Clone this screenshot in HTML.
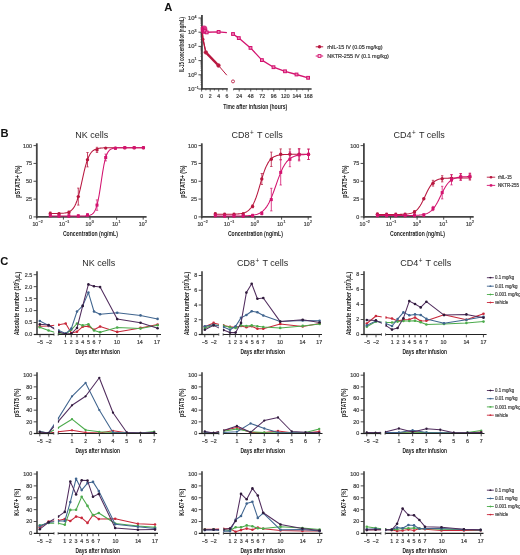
<!DOCTYPE html>
<html><head><meta charset="utf-8"><style>
html,body{margin:0;padding:0;background:#fff;}
body{width:520px;height:555px;overflow:hidden;}
svg{display:block;font-family:"Liberation Sans", sans-serif;will-change:transform;}
</style></head><body>
<svg width="520" height="555" viewBox="0 0 520 555">
<rect width="520" height="555" fill="#fff"/>
<text x="164.3" y="10.5" font-size="11.2" text-anchor="start" font-weight="bold" fill="#111">A</text>
<text x="0.5" y="137.4" font-size="11.2" text-anchor="start" font-weight="bold" fill="#111">B</text>
<text x="0.3" y="265.4" font-size="11.2" text-anchor="start" font-weight="bold" fill="#111">C</text>
<line x1="201.95" y1="15" x2="201.95" y2="89.5" stroke="#2a2a2a" stroke-width="1.6"/>
<line x1="198.45" y1="18" x2="201.95" y2="18" stroke="#3a3a3a" stroke-width="0.9"/>
<text x="194.4" y="20" font-size="5.8" text-anchor="end" font-weight="normal" fill="#444" stroke="#444" stroke-width="0.22">10</text>
<text x="194.6" y="17.7" font-size="3.6" text-anchor="start" font-weight="normal" fill="#444" stroke="#444" stroke-width="0.22">4</text>
<line x1="200.35" y1="27.93" x2="201.95" y2="27.93" stroke="#3a3a3a" stroke-width="0.5"/>
<line x1="200.35" y1="25.42" x2="201.95" y2="25.42" stroke="#3a3a3a" stroke-width="0.5"/>
<line x1="200.35" y1="23.65" x2="201.95" y2="23.65" stroke="#3a3a3a" stroke-width="0.5"/>
<line x1="200.35" y1="22.27" x2="201.95" y2="22.27" stroke="#3a3a3a" stroke-width="0.5"/>
<line x1="200.35" y1="21.15" x2="201.95" y2="21.15" stroke="#3a3a3a" stroke-width="0.5"/>
<line x1="200.35" y1="20.2" x2="201.95" y2="20.2" stroke="#3a3a3a" stroke-width="0.5"/>
<line x1="200.35" y1="19.38" x2="201.95" y2="19.38" stroke="#3a3a3a" stroke-width="0.5"/>
<line x1="200.35" y1="18.65" x2="201.95" y2="18.65" stroke="#3a3a3a" stroke-width="0.5"/>
<line x1="198.45" y1="32.2" x2="201.95" y2="32.2" stroke="#3a3a3a" stroke-width="0.9"/>
<text x="194.4" y="34.2" font-size="5.8" text-anchor="end" font-weight="normal" fill="#444" stroke="#444" stroke-width="0.22">10</text>
<text x="194.6" y="31.9" font-size="3.6" text-anchor="start" font-weight="normal" fill="#444" stroke="#444" stroke-width="0.22">3</text>
<line x1="200.35" y1="42.13" x2="201.95" y2="42.13" stroke="#3a3a3a" stroke-width="0.5"/>
<line x1="200.35" y1="39.62" x2="201.95" y2="39.62" stroke="#3a3a3a" stroke-width="0.5"/>
<line x1="200.35" y1="37.85" x2="201.95" y2="37.85" stroke="#3a3a3a" stroke-width="0.5"/>
<line x1="200.35" y1="36.47" x2="201.95" y2="36.47" stroke="#3a3a3a" stroke-width="0.5"/>
<line x1="200.35" y1="35.35" x2="201.95" y2="35.35" stroke="#3a3a3a" stroke-width="0.5"/>
<line x1="200.35" y1="34.4" x2="201.95" y2="34.4" stroke="#3a3a3a" stroke-width="0.5"/>
<line x1="200.35" y1="33.58" x2="201.95" y2="33.58" stroke="#3a3a3a" stroke-width="0.5"/>
<line x1="200.35" y1="32.85" x2="201.95" y2="32.85" stroke="#3a3a3a" stroke-width="0.5"/>
<line x1="198.45" y1="46.4" x2="201.95" y2="46.4" stroke="#3a3a3a" stroke-width="0.9"/>
<text x="194.4" y="48.4" font-size="5.8" text-anchor="end" font-weight="normal" fill="#444" stroke="#444" stroke-width="0.22">10</text>
<text x="194.6" y="46.1" font-size="3.6" text-anchor="start" font-weight="normal" fill="#444" stroke="#444" stroke-width="0.22">2</text>
<line x1="200.35" y1="56.33" x2="201.95" y2="56.33" stroke="#3a3a3a" stroke-width="0.5"/>
<line x1="200.35" y1="53.82" x2="201.95" y2="53.82" stroke="#3a3a3a" stroke-width="0.5"/>
<line x1="200.35" y1="52.05" x2="201.95" y2="52.05" stroke="#3a3a3a" stroke-width="0.5"/>
<line x1="200.35" y1="50.67" x2="201.95" y2="50.67" stroke="#3a3a3a" stroke-width="0.5"/>
<line x1="200.35" y1="49.55" x2="201.95" y2="49.55" stroke="#3a3a3a" stroke-width="0.5"/>
<line x1="200.35" y1="48.6" x2="201.95" y2="48.6" stroke="#3a3a3a" stroke-width="0.5"/>
<line x1="200.35" y1="47.78" x2="201.95" y2="47.78" stroke="#3a3a3a" stroke-width="0.5"/>
<line x1="200.35" y1="47.05" x2="201.95" y2="47.05" stroke="#3a3a3a" stroke-width="0.5"/>
<line x1="198.45" y1="60.6" x2="201.95" y2="60.6" stroke="#3a3a3a" stroke-width="0.9"/>
<text x="194.4" y="62.6" font-size="5.8" text-anchor="end" font-weight="normal" fill="#444" stroke="#444" stroke-width="0.22">10</text>
<text x="194.6" y="60.3" font-size="3.6" text-anchor="start" font-weight="normal" fill="#444" stroke="#444" stroke-width="0.22">1</text>
<line x1="200.35" y1="70.53" x2="201.95" y2="70.53" stroke="#3a3a3a" stroke-width="0.5"/>
<line x1="200.35" y1="68.02" x2="201.95" y2="68.02" stroke="#3a3a3a" stroke-width="0.5"/>
<line x1="200.35" y1="66.25" x2="201.95" y2="66.25" stroke="#3a3a3a" stroke-width="0.5"/>
<line x1="200.35" y1="64.87" x2="201.95" y2="64.87" stroke="#3a3a3a" stroke-width="0.5"/>
<line x1="200.35" y1="63.75" x2="201.95" y2="63.75" stroke="#3a3a3a" stroke-width="0.5"/>
<line x1="200.35" y1="62.8" x2="201.95" y2="62.8" stroke="#3a3a3a" stroke-width="0.5"/>
<line x1="200.35" y1="61.98" x2="201.95" y2="61.98" stroke="#3a3a3a" stroke-width="0.5"/>
<line x1="200.35" y1="61.25" x2="201.95" y2="61.25" stroke="#3a3a3a" stroke-width="0.5"/>
<line x1="198.45" y1="74.8" x2="201.95" y2="74.8" stroke="#3a3a3a" stroke-width="0.9"/>
<text x="194.4" y="76.8" font-size="5.8" text-anchor="end" font-weight="normal" fill="#444" stroke="#444" stroke-width="0.22">10</text>
<text x="194.6" y="74.5" font-size="3.6" text-anchor="start" font-weight="normal" fill="#444" stroke="#444" stroke-width="0.22">0</text>
<line x1="200.35" y1="84.73" x2="201.95" y2="84.73" stroke="#3a3a3a" stroke-width="0.5"/>
<line x1="200.35" y1="82.22" x2="201.95" y2="82.22" stroke="#3a3a3a" stroke-width="0.5"/>
<line x1="200.35" y1="80.45" x2="201.95" y2="80.45" stroke="#3a3a3a" stroke-width="0.5"/>
<line x1="200.35" y1="79.07" x2="201.95" y2="79.07" stroke="#3a3a3a" stroke-width="0.5"/>
<line x1="200.35" y1="77.95" x2="201.95" y2="77.95" stroke="#3a3a3a" stroke-width="0.5"/>
<line x1="200.35" y1="77" x2="201.95" y2="77" stroke="#3a3a3a" stroke-width="0.5"/>
<line x1="200.35" y1="76.18" x2="201.95" y2="76.18" stroke="#3a3a3a" stroke-width="0.5"/>
<line x1="200.35" y1="75.45" x2="201.95" y2="75.45" stroke="#3a3a3a" stroke-width="0.5"/>
<line x1="198.45" y1="89" x2="201.95" y2="89" stroke="#3a3a3a" stroke-width="0.9"/>
<text x="194.4" y="91" font-size="5.8" text-anchor="end" font-weight="normal" fill="#444" stroke="#444" stroke-width="0.22">10</text>
<text x="194.6" y="88.7" font-size="3.6" text-anchor="start" font-weight="normal" fill="#444" stroke="#444" stroke-width="0.22">&#8722;1</text>
<text transform="translate(181.2,44.5) rotate(-90)" x="0" y="0" font-size="6.6" text-anchor="middle" font-weight="bold" fill="#222" textLength="55" lengthAdjust="spacingAndGlyphs" dominant-baseline="central">IL-15 concentration (ng/mL)</text>
<line x1="201.15" y1="88.9" x2="227.8" y2="88.9" stroke="#333" stroke-width="1.5"/>
<line x1="201.6" y1="88.9" x2="201.6" y2="91.5" stroke="#3a3a3a" stroke-width="0.8"/>
<line x1="205.9" y1="88.9" x2="205.9" y2="90.4" stroke="#3a3a3a" stroke-width="0.8"/>
<line x1="210.2" y1="88.9" x2="210.2" y2="91.5" stroke="#3a3a3a" stroke-width="0.8"/>
<line x1="214.4" y1="88.9" x2="214.4" y2="90.4" stroke="#3a3a3a" stroke-width="0.8"/>
<line x1="218.7" y1="88.9" x2="218.7" y2="91.5" stroke="#3a3a3a" stroke-width="0.8"/>
<line x1="222.8" y1="88.9" x2="222.8" y2="90.4" stroke="#3a3a3a" stroke-width="0.8"/>
<line x1="226.9" y1="88.9" x2="226.9" y2="91.5" stroke="#3a3a3a" stroke-width="0.8"/>
<text x="201.6" y="98.4" font-size="5.2" text-anchor="middle" font-weight="normal" fill="#444" stroke="#444" stroke-width="0.22">0</text>
<text x="210.2" y="98.4" font-size="5.2" text-anchor="middle" font-weight="normal" fill="#444" stroke="#444" stroke-width="0.22">2</text>
<text x="218.7" y="98.4" font-size="5.2" text-anchor="middle" font-weight="normal" fill="#444" stroke="#444" stroke-width="0.22">4</text>
<text x="226.9" y="98.4" font-size="5.2" text-anchor="middle" font-weight="normal" fill="#444" stroke="#444" stroke-width="0.22">6</text>
<line x1="233.4" y1="88.9" x2="311.6" y2="88.9" stroke="#333" stroke-width="1.5"/>
<line x1="239.2" y1="88.9" x2="239.2" y2="91.5" stroke="#3a3a3a" stroke-width="0.8"/>
<line x1="233.5" y1="88.9" x2="233.5" y2="90.4" stroke="#3a3a3a" stroke-width="0.6"/>
<line x1="250.72" y1="88.9" x2="250.72" y2="91.5" stroke="#3a3a3a" stroke-width="0.8"/>
<line x1="245.02" y1="88.9" x2="245.02" y2="90.4" stroke="#3a3a3a" stroke-width="0.6"/>
<line x1="262.24" y1="88.9" x2="262.24" y2="91.5" stroke="#3a3a3a" stroke-width="0.8"/>
<line x1="256.54" y1="88.9" x2="256.54" y2="90.4" stroke="#3a3a3a" stroke-width="0.6"/>
<line x1="273.76" y1="88.9" x2="273.76" y2="91.5" stroke="#3a3a3a" stroke-width="0.8"/>
<line x1="268.06" y1="88.9" x2="268.06" y2="90.4" stroke="#3a3a3a" stroke-width="0.6"/>
<line x1="285.28" y1="88.9" x2="285.28" y2="91.5" stroke="#3a3a3a" stroke-width="0.8"/>
<line x1="279.58" y1="88.9" x2="279.58" y2="90.4" stroke="#3a3a3a" stroke-width="0.6"/>
<line x1="296.8" y1="88.9" x2="296.8" y2="91.5" stroke="#3a3a3a" stroke-width="0.8"/>
<line x1="291.1" y1="88.9" x2="291.1" y2="90.4" stroke="#3a3a3a" stroke-width="0.6"/>
<line x1="308.32" y1="88.9" x2="308.32" y2="91.5" stroke="#3a3a3a" stroke-width="0.8"/>
<line x1="302.62" y1="88.9" x2="302.62" y2="90.4" stroke="#3a3a3a" stroke-width="0.6"/>
<text x="239.2" y="98.4" font-size="5.2" text-anchor="middle" font-weight="normal" fill="#444" stroke="#444" stroke-width="0.22">24</text>
<text x="250.72" y="98.4" font-size="5.2" text-anchor="middle" font-weight="normal" fill="#444" stroke="#444" stroke-width="0.22">48</text>
<text x="262.24" y="98.4" font-size="5.2" text-anchor="middle" font-weight="normal" fill="#444" stroke="#444" stroke-width="0.22">72</text>
<text x="273.76" y="98.4" font-size="5.2" text-anchor="middle" font-weight="normal" fill="#444" stroke="#444" stroke-width="0.22">96</text>
<text x="285.28" y="98.4" font-size="5.2" text-anchor="middle" font-weight="normal" fill="#444" stroke="#444" stroke-width="0.22">120</text>
<text x="296.8" y="98.4" font-size="5.2" text-anchor="middle" font-weight="normal" fill="#444" stroke="#444" stroke-width="0.22">144</text>
<text x="308.32" y="98.4" font-size="5.2" text-anchor="middle" font-weight="normal" fill="#444" stroke="#444" stroke-width="0.22">168</text>
<text x="255.2" y="108.6" font-size="7.5" text-anchor="middle" font-weight="bold" fill="#222" textLength="64" lengthAdjust="spacingAndGlyphs">Time after infusion (hours)</text>
<polyline points="201.8,27 203.2,39.4 205.8,52.3 218.5,65.5 226.8,75.2" fill="none" stroke="#b8173f" stroke-width="1" stroke-linejoin="round"/>
<polyline points="202,28 202.8,38.5 205.8,52.3" fill="none" stroke="#b8173f" stroke-width="1.3" stroke-linejoin="round"/>
<polyline points="205.8,52.3 218.5,65.5" fill="none" stroke="#b8173f" stroke-width="2.5" stroke-linejoin="round"/>
<circle cx="203.2" cy="39.4" r="1.3" fill="#b8173f"/>
<circle cx="205.8" cy="52.3" r="1.9" fill="#b8173f" stroke="#c8385a" stroke-width="0.5"/>
<circle cx="218.5" cy="65.5" r="1.9" fill="#b8173f" stroke="#c8385a" stroke-width="0.5"/>
<circle cx="233.0" cy="81.4" r="1.5" fill="#fff" stroke="#b8173f" stroke-width="0.85"/>
<polyline points="201.8,26.5 204.6,30.3 206.5,32.2 218.6,31.9 226.9,32.6" fill="none" stroke="#d3136f" stroke-width="1.4" stroke-linejoin="round"/>
<polyline points="201.8,28 204,31.5 206.5,31.6" fill="none" stroke="#d3136f" stroke-width="1.6" stroke-linejoin="round"/>
<ellipse cx="204.0" cy="29.8" rx="3.4" ry="4.2" fill="#d3136f" opacity="0.85"/>
<polyline points="233,34 238.8,38.1 250.5,47.9 261.9,60.1 273.5,67.2 285,71.3 296.5,74.5 308.1,77.8" fill="none" stroke="#d3136f" stroke-width="1.3" stroke-linejoin="round"/>
<rect x="203.6" y="29.4" width="2.8" height="2.8" fill="#ee7fb5" stroke="#d3136f" stroke-width="1.0"/>
<rect x="205.3" y="31" width="2.8" height="2.8" fill="#ee7fb5" stroke="#d3136f" stroke-width="1.0"/>
<rect x="217.2" y="30.5" width="2.8" height="2.8" fill="#ee7fb5" stroke="#d3136f" stroke-width="1.0"/>
<rect x="231.6" y="32.6" width="2.8" height="2.8" fill="#ee7fb5" stroke="#d3136f" stroke-width="1.0"/>
<rect x="237.4" y="36.7" width="2.8" height="2.8" fill="#ee7fb5" stroke="#d3136f" stroke-width="1.0"/>
<rect x="249.1" y="46.5" width="2.8" height="2.8" fill="#ee7fb5" stroke="#d3136f" stroke-width="1.0"/>
<rect x="260.5" y="58.7" width="2.8" height="2.8" fill="#ee7fb5" stroke="#d3136f" stroke-width="1.0"/>
<rect x="272.1" y="65.8" width="2.8" height="2.8" fill="#ee7fb5" stroke="#d3136f" stroke-width="1.0"/>
<rect x="283.6" y="69.9" width="2.8" height="2.8" fill="#ee7fb5" stroke="#d3136f" stroke-width="1.0"/>
<rect x="295.1" y="73.1" width="2.8" height="2.8" fill="#ee7fb5" stroke="#d3136f" stroke-width="1.0"/>
<rect x="306.7" y="76.4" width="2.8" height="2.8" fill="#ee7fb5" stroke="#d3136f" stroke-width="1.0"/>
<line x1="315.7" y1="46.8" x2="323.2" y2="46.8" stroke="#b8173f" stroke-width="1"/>
<circle cx="319.5" cy="46.8" r="1.7" fill="#b8173f"/>
<text x="327.2" y="48.8" font-size="5.8" text-anchor="start" font-weight="normal" fill="#3a3a3a" textLength="55.4" lengthAdjust="spacingAndGlyphs" stroke="#3a3a3a" stroke-width="0.22">rhIL-15 IV (0.05 mg/kg)</text>
<line x1="315.7" y1="56" x2="323.2" y2="56" stroke="#d3136f" stroke-width="1"/>
<rect x="318.1" y="54.6" width="2.8" height="2.8" fill="#f8d0e2" stroke="#d3136f" stroke-width="0.9"/>
<text x="327.2" y="58" font-size="5.8" text-anchor="start" font-weight="normal" fill="#3a3a3a" textLength="61.6" lengthAdjust="spacingAndGlyphs" stroke="#3a3a3a" stroke-width="0.22">NKTR-255 IV (0.1 mg/kg)</text>
<line x1="36.8" y1="143.3" x2="36.8" y2="217.8" stroke="#444" stroke-width="1.8"/>
<line x1="33.5" y1="216.9" x2="36.8" y2="216.9" stroke="#3a3a3a" stroke-width="0.9"/>
<text x="32.1" y="218.8" font-size="5.4" text-anchor="end" font-weight="normal" fill="#444" stroke="#444" stroke-width="0.22">0</text>
<line x1="33.5" y1="199.08" x2="36.8" y2="199.08" stroke="#3a3a3a" stroke-width="0.9"/>
<text x="32.1" y="200.98" font-size="5.4" text-anchor="end" font-weight="normal" fill="#444" stroke="#444" stroke-width="0.22">25</text>
<line x1="33.5" y1="181.25" x2="36.8" y2="181.25" stroke="#3a3a3a" stroke-width="0.9"/>
<text x="32.1" y="183.15" font-size="5.4" text-anchor="end" font-weight="normal" fill="#444" stroke="#444" stroke-width="0.22">50</text>
<line x1="33.5" y1="163.43" x2="36.8" y2="163.43" stroke="#3a3a3a" stroke-width="0.9"/>
<text x="32.1" y="165.33" font-size="5.4" text-anchor="end" font-weight="normal" fill="#444" stroke="#444" stroke-width="0.22">75</text>
<line x1="33.5" y1="145.6" x2="36.8" y2="145.6" stroke="#3a3a3a" stroke-width="0.9"/>
<text x="32.1" y="147.5" font-size="5.4" text-anchor="end" font-weight="normal" fill="#444" stroke="#444" stroke-width="0.22">100</text>
<text transform="translate(17.4,181.6) rotate(-90)" x="0" y="0" font-size="7" text-anchor="middle" font-weight="bold" fill="#222" textLength="32.4" lengthAdjust="spacingAndGlyphs" dominant-baseline="central">pSTAT5+ (%)</text>
<line x1="36" y1="216.8" x2="146.6" y2="216.8" stroke="#444" stroke-width="1.7"/>
<line x1="36.8" y1="216.8" x2="36.8" y2="219.6" stroke="#3a3a3a" stroke-width="0.9"/>
<text x="38.2" y="226.3" font-size="5.2" text-anchor="end" font-weight="normal" fill="#444" stroke="#444" stroke-width="0.22">10</text>
<text x="38.6" y="222.7" font-size="3.5" text-anchor="start" font-weight="normal" fill="#444" stroke="#444" stroke-width="0.22">&#8722;2</text>
<line x1="63.4" y1="216.8" x2="63.4" y2="219.6" stroke="#3a3a3a" stroke-width="0.9"/>
<text x="64.8" y="226.3" font-size="5.2" text-anchor="end" font-weight="normal" fill="#444" stroke="#444" stroke-width="0.22">10</text>
<text x="65.2" y="222.7" font-size="3.5" text-anchor="start" font-weight="normal" fill="#444" stroke="#444" stroke-width="0.22">&#8722;1</text>
<line x1="90" y1="216.8" x2="90" y2="219.6" stroke="#3a3a3a" stroke-width="0.9"/>
<text x="91.4" y="226.3" font-size="5.2" text-anchor="end" font-weight="normal" fill="#444" stroke="#444" stroke-width="0.22">10</text>
<text x="91.8" y="222.7" font-size="3.5" text-anchor="start" font-weight="normal" fill="#444" stroke="#444" stroke-width="0.22">0</text>
<line x1="116.6" y1="216.8" x2="116.6" y2="219.6" stroke="#3a3a3a" stroke-width="0.9"/>
<text x="118" y="226.3" font-size="5.2" text-anchor="end" font-weight="normal" fill="#444" stroke="#444" stroke-width="0.22">10</text>
<text x="118.4" y="222.7" font-size="3.5" text-anchor="start" font-weight="normal" fill="#444" stroke="#444" stroke-width="0.22">1</text>
<line x1="143.2" y1="216.8" x2="143.2" y2="219.6" stroke="#3a3a3a" stroke-width="0.9"/>
<text x="144.6" y="226.3" font-size="5.2" text-anchor="end" font-weight="normal" fill="#444" stroke="#444" stroke-width="0.22">10</text>
<text x="145" y="222.7" font-size="3.5" text-anchor="start" font-weight="normal" fill="#444" stroke="#444" stroke-width="0.22">2</text>
<text x="90.4" y="235.8" font-size="7.5" text-anchor="middle" font-weight="bold" fill="#222" textLength="55" lengthAdjust="spacingAndGlyphs">Concentration (ng/mL)</text>
<text x="75.3" y="137.6" font-size="9" text-anchor="start" font-weight="normal" fill="#2a2a2a">NK cells</text>
<polyline points="50.3,213.49 51.46,213.49 52.63,213.48 53.79,213.48 54.95,213.47 56.12,213.45 57.28,213.43 58.45,213.41 59.61,213.38 60.77,213.33 61.94,213.26 63.1,213.17 64.27,213.05 65.43,212.87 66.59,212.64 67.76,212.31 68.92,211.87 70.08,211.26 71.25,210.45 72.41,209.35 73.58,207.9 74.74,206 75.9,203.56 77.07,200.51 78.23,196.79 79.39,192.44 80.56,187.56 81.72,182.33 82.88,177.02 84.05,171.88 85.21,167.17 86.38,163.03 87.54,159.55 88.7,156.72 89.87,154.48 91.03,152.75 92.19,151.43 93.36,150.44 94.52,149.7 95.69,149.16 96.85,148.76 98.01,148.47 99.18,148.26 100.34,148.11 101.5,147.99 102.67,147.91 103.83,147.85 105,147.81 106.16,147.78 107.32,147.76 108.49,147.74 109.65,147.73 110.81,147.72 111.98,147.72 113.14,147.71 114.31,147.71 115.47,147.71 116.63,147.7 117.8,147.7 118.96,147.7 120.13,147.7 121.29,147.7 122.45,147.7 123.62,147.7 124.78,147.7 125.94,147.7 127.11,147.7 128.27,147.7 129.44,147.7 130.6,147.7 131.76,147.7 132.93,147.7 134.09,147.7 135.25,147.7 136.42,147.7 137.58,147.7 138.75,147.7 139.91,147.7 141.07,147.7 142.24,147.7 143.4,147.7" fill="none" stroke="#b8173f" stroke-width="1.05" stroke-linejoin="round"/>
<line x1="50.3" y1="212" x2="50.3" y2="214.8" stroke="#b8173f" stroke-width="0.8"/>
<line x1="49.1" y1="212" x2="51.5" y2="212" stroke="#b8173f" stroke-width="0.7"/>
<line x1="49.1" y1="214.8" x2="51.5" y2="214.8" stroke="#b8173f" stroke-width="0.7"/>
<circle cx="50.3" cy="213.4" r="1.7" fill="#b8173f"/>
<line x1="59" y1="212.5" x2="59" y2="215.3" stroke="#b8173f" stroke-width="0.8"/>
<line x1="57.8" y1="212.5" x2="60.2" y2="212.5" stroke="#b8173f" stroke-width="0.7"/>
<line x1="57.8" y1="215.3" x2="60.2" y2="215.3" stroke="#b8173f" stroke-width="0.7"/>
<circle cx="59" cy="213.9" r="1.7" fill="#b8173f"/>
<line x1="68.9" y1="211" x2="68.9" y2="213.8" stroke="#b8173f" stroke-width="0.8"/>
<line x1="67.7" y1="211" x2="70.1" y2="211" stroke="#b8173f" stroke-width="0.7"/>
<line x1="67.7" y1="213.8" x2="70.1" y2="213.8" stroke="#b8173f" stroke-width="0.7"/>
<circle cx="68.9" cy="212.4" r="1.7" fill="#b8173f"/>
<line x1="78.3" y1="188.1" x2="78.3" y2="205.1" stroke="#b8173f" stroke-width="0.8"/>
<line x1="77.1" y1="188.1" x2="79.5" y2="188.1" stroke="#b8173f" stroke-width="0.7"/>
<line x1="77.1" y1="205.1" x2="79.5" y2="205.1" stroke="#b8173f" stroke-width="0.7"/>
<circle cx="78.3" cy="196.6" r="1.7" fill="#b8173f"/>
<line x1="87.5" y1="152.5" x2="87.5" y2="166.9" stroke="#b8173f" stroke-width="0.8"/>
<line x1="86.3" y1="152.5" x2="88.7" y2="152.5" stroke="#b8173f" stroke-width="0.7"/>
<line x1="86.3" y1="166.9" x2="88.7" y2="166.9" stroke="#b8173f" stroke-width="0.7"/>
<circle cx="87.5" cy="159.7" r="1.7" fill="#b8173f"/>
<line x1="97" y1="147.3" x2="97" y2="152.5" stroke="#b8173f" stroke-width="0.8"/>
<line x1="95.8" y1="147.3" x2="98.2" y2="147.3" stroke="#b8173f" stroke-width="0.7"/>
<line x1="95.8" y1="152.5" x2="98.2" y2="152.5" stroke="#b8173f" stroke-width="0.7"/>
<circle cx="97" cy="149.9" r="1.7" fill="#b8173f"/>
<circle cx="105.7" cy="148.1" r="1.7" fill="#b8173f"/>
<circle cx="115.4" cy="148.1" r="1.7" fill="#b8173f"/>
<circle cx="124.8" cy="147.7" r="1.7" fill="#b8173f"/>
<circle cx="134.2" cy="147.7" r="1.7" fill="#b8173f"/>
<circle cx="143.4" cy="147.7" r="1.7" fill="#b8173f"/>
<polyline points="50.3,216 51.46,216 52.63,216 53.79,216 54.95,216 56.12,216 57.28,216 58.45,216 59.61,216 60.77,216 61.94,216 63.1,216 64.27,216 65.43,216 66.59,216 67.76,216 68.92,216 70.08,216 71.25,216 72.41,216 73.58,216 74.74,216 75.9,216 77.07,216 78.23,215.99 79.39,215.99 80.56,215.98 81.72,215.97 82.88,215.95 84.05,215.92 85.21,215.88 86.38,215.81 87.54,215.7 88.7,215.52 89.87,215.25 91.03,214.81 92.19,214.14 93.36,213.09 94.52,211.49 95.69,209.11 96.85,205.68 98.01,200.96 99.18,194.86 100.34,187.61 101.5,179.79 102.67,172.17 103.83,165.48 105,160.09 106.16,156.07 107.32,153.23 108.49,151.29 109.65,150.01 110.81,149.17 111.98,148.64 113.14,148.29 114.31,148.07 115.47,147.94 116.63,147.85 117.8,147.79 118.96,147.76 120.13,147.74 121.29,147.72 122.45,147.71 123.62,147.71 124.78,147.71 125.94,147.7 127.11,147.7 128.27,147.7 129.44,147.7 130.6,147.7 131.76,147.7 132.93,147.7 134.09,147.7 135.25,147.7 136.42,147.7 137.58,147.7 138.75,147.7 139.91,147.7 141.07,147.7 142.24,147.7 143.4,147.7" fill="none" stroke="#d3136f" stroke-width="1.05" stroke-linejoin="round"/>
<line x1="50.3" y1="214.2" x2="50.3" y2="217" stroke="#d3136f" stroke-width="0.8"/>
<line x1="49.1" y1="214.2" x2="51.5" y2="214.2" stroke="#d3136f" stroke-width="0.7"/>
<line x1="49.1" y1="217" x2="51.5" y2="217" stroke="#d3136f" stroke-width="0.7"/>
<rect x="48.8" y="214.1" width="3.0" height="3.0" fill="#d3136f"/>
<line x1="59" y1="214.6" x2="59" y2="217.4" stroke="#d3136f" stroke-width="0.8"/>
<line x1="57.8" y1="214.6" x2="60.2" y2="214.6" stroke="#d3136f" stroke-width="0.7"/>
<line x1="57.8" y1="217.4" x2="60.2" y2="217.4" stroke="#d3136f" stroke-width="0.7"/>
<rect x="57.5" y="214.5" width="3.0" height="3.0" fill="#d3136f"/>
<line x1="68.9" y1="214.6" x2="68.9" y2="217.4" stroke="#d3136f" stroke-width="0.8"/>
<line x1="67.7" y1="214.6" x2="70.1" y2="214.6" stroke="#d3136f" stroke-width="0.7"/>
<line x1="67.7" y1="217.4" x2="70.1" y2="217.4" stroke="#d3136f" stroke-width="0.7"/>
<rect x="67.4" y="214.5" width="3.0" height="3.0" fill="#d3136f"/>
<line x1="78.3" y1="214.6" x2="78.3" y2="217.4" stroke="#d3136f" stroke-width="0.8"/>
<line x1="77.1" y1="214.6" x2="79.5" y2="214.6" stroke="#d3136f" stroke-width="0.7"/>
<line x1="77.1" y1="217.4" x2="79.5" y2="217.4" stroke="#d3136f" stroke-width="0.7"/>
<rect x="76.8" y="214.5" width="3.0" height="3.0" fill="#d3136f"/>
<line x1="87.5" y1="213.5" x2="87.5" y2="216.5" stroke="#d3136f" stroke-width="0.8"/>
<line x1="86.3" y1="213.5" x2="88.7" y2="213.5" stroke="#d3136f" stroke-width="0.7"/>
<line x1="86.3" y1="216.5" x2="88.7" y2="216.5" stroke="#d3136f" stroke-width="0.7"/>
<rect x="86" y="213.5" width="3.0" height="3.0" fill="#d3136f"/>
<line x1="97" y1="199.9" x2="97" y2="210.3" stroke="#d3136f" stroke-width="0.8"/>
<line x1="95.8" y1="199.9" x2="98.2" y2="199.9" stroke="#d3136f" stroke-width="0.7"/>
<line x1="95.8" y1="210.3" x2="98.2" y2="210.3" stroke="#d3136f" stroke-width="0.7"/>
<rect x="95.5" y="203.6" width="3.0" height="3.0" fill="#d3136f"/>
<line x1="105.7" y1="154.1" x2="105.7" y2="160.9" stroke="#d3136f" stroke-width="0.8"/>
<line x1="104.5" y1="154.1" x2="106.9" y2="154.1" stroke="#d3136f" stroke-width="0.7"/>
<line x1="104.5" y1="160.9" x2="106.9" y2="160.9" stroke="#d3136f" stroke-width="0.7"/>
<rect x="104.2" y="156" width="3.0" height="3.0" fill="#d3136f"/>
<rect x="113.9" y="146.8" width="3.0" height="3.0" fill="#d3136f"/>
<rect x="123.3" y="146.2" width="3.0" height="3.0" fill="#d3136f"/>
<rect x="132.7" y="146.2" width="3.0" height="3.0" fill="#d3136f"/>
<rect x="141.9" y="146.2" width="3.0" height="3.0" fill="#d3136f"/>
<line x1="201.8" y1="143.3" x2="201.8" y2="217.8" stroke="#444" stroke-width="1.8"/>
<line x1="198.5" y1="216.9" x2="201.8" y2="216.9" stroke="#3a3a3a" stroke-width="0.9"/>
<text x="197.1" y="218.8" font-size="5.4" text-anchor="end" font-weight="normal" fill="#444" stroke="#444" stroke-width="0.22">0</text>
<line x1="198.5" y1="199.08" x2="201.8" y2="199.08" stroke="#3a3a3a" stroke-width="0.9"/>
<text x="197.1" y="200.98" font-size="5.4" text-anchor="end" font-weight="normal" fill="#444" stroke="#444" stroke-width="0.22">25</text>
<line x1="198.5" y1="181.25" x2="201.8" y2="181.25" stroke="#3a3a3a" stroke-width="0.9"/>
<text x="197.1" y="183.15" font-size="5.4" text-anchor="end" font-weight="normal" fill="#444" stroke="#444" stroke-width="0.22">50</text>
<line x1="198.5" y1="163.43" x2="201.8" y2="163.43" stroke="#3a3a3a" stroke-width="0.9"/>
<text x="197.1" y="165.33" font-size="5.4" text-anchor="end" font-weight="normal" fill="#444" stroke="#444" stroke-width="0.22">75</text>
<line x1="198.5" y1="145.6" x2="201.8" y2="145.6" stroke="#3a3a3a" stroke-width="0.9"/>
<text x="197.1" y="147.5" font-size="5.4" text-anchor="end" font-weight="normal" fill="#444" stroke="#444" stroke-width="0.22">100</text>
<text transform="translate(182.4,181.6) rotate(-90)" x="0" y="0" font-size="7" text-anchor="middle" font-weight="bold" fill="#222" textLength="32.4" lengthAdjust="spacingAndGlyphs" dominant-baseline="central">pSTAT5+ (%)</text>
<line x1="201" y1="216.8" x2="311.6" y2="216.8" stroke="#444" stroke-width="1.7"/>
<line x1="201.8" y1="216.8" x2="201.8" y2="219.6" stroke="#3a3a3a" stroke-width="0.9"/>
<text x="203.2" y="226.3" font-size="5.2" text-anchor="end" font-weight="normal" fill="#444" stroke="#444" stroke-width="0.22">10</text>
<text x="203.6" y="222.7" font-size="3.5" text-anchor="start" font-weight="normal" fill="#444" stroke="#444" stroke-width="0.22">&#8722;2</text>
<line x1="228.4" y1="216.8" x2="228.4" y2="219.6" stroke="#3a3a3a" stroke-width="0.9"/>
<text x="229.8" y="226.3" font-size="5.2" text-anchor="end" font-weight="normal" fill="#444" stroke="#444" stroke-width="0.22">10</text>
<text x="230.2" y="222.7" font-size="3.5" text-anchor="start" font-weight="normal" fill="#444" stroke="#444" stroke-width="0.22">&#8722;1</text>
<line x1="255" y1="216.8" x2="255" y2="219.6" stroke="#3a3a3a" stroke-width="0.9"/>
<text x="256.4" y="226.3" font-size="5.2" text-anchor="end" font-weight="normal" fill="#444" stroke="#444" stroke-width="0.22">10</text>
<text x="256.8" y="222.7" font-size="3.5" text-anchor="start" font-weight="normal" fill="#444" stroke="#444" stroke-width="0.22">0</text>
<line x1="281.6" y1="216.8" x2="281.6" y2="219.6" stroke="#3a3a3a" stroke-width="0.9"/>
<text x="283" y="226.3" font-size="5.2" text-anchor="end" font-weight="normal" fill="#444" stroke="#444" stroke-width="0.22">10</text>
<text x="283.4" y="222.7" font-size="3.5" text-anchor="start" font-weight="normal" fill="#444" stroke="#444" stroke-width="0.22">1</text>
<line x1="308.2" y1="216.8" x2="308.2" y2="219.6" stroke="#3a3a3a" stroke-width="0.9"/>
<text x="309.6" y="226.3" font-size="5.2" text-anchor="end" font-weight="normal" fill="#444" stroke="#444" stroke-width="0.22">10</text>
<text x="310" y="222.7" font-size="3.5" text-anchor="start" font-weight="normal" fill="#444" stroke="#444" stroke-width="0.22">2</text>
<text x="255.4" y="235.8" font-size="7.5" text-anchor="middle" font-weight="bold" fill="#222" textLength="55" lengthAdjust="spacingAndGlyphs">Concentration (ng/mL)</text>
<text x="231.5" y="137.6" font-size="9" text-anchor="start" font-weight="normal" fill="#2a2a2a">CD8<tspan font-size="6.4" dx="0.5" dy="-2.8">+</tspan><tspan dx="0.9" dy="2.8"> T cells</tspan></text>
<polyline points="215.3,214.3 216.47,214.3 217.63,214.3 218.8,214.3 219.96,214.29 221.12,214.29 222.29,214.29 223.46,214.29 224.62,214.28 225.79,214.28 226.95,214.27 228.12,214.26 229.28,214.25 230.45,214.23 231.61,214.21 232.78,214.19 233.94,214.15 235.11,214.11 236.27,214.05 237.44,213.97 238.6,213.87 239.77,213.75 240.93,213.58 242.09,213.36 243.26,213.08 244.43,212.72 245.59,212.25 246.75,211.66 247.92,210.89 249.09,209.93 250.25,208.72 251.42,207.21 252.58,205.37 253.75,203.15 254.91,200.52 256.07,197.49 257.24,194.09 258.41,190.38 259.57,186.46 260.74,182.47 261.9,178.54 263.06,174.8 264.23,171.37 265.39,168.31 266.56,165.65 267.73,163.4 268.89,161.52 270.06,159.99 271.22,158.76 272.38,157.78 273.55,157 274.72,156.39 275.88,155.91 277.05,155.54 278.21,155.26 279.38,155.04 280.54,154.87 281.71,154.73 282.87,154.63 284.03,154.56 285.2,154.5 286.37,154.45 287.53,154.42 288.69,154.39 289.86,154.37 291.02,154.35 292.19,154.34 293.36,154.33 294.52,154.32 295.69,154.32 296.85,154.31 298.01,154.31 299.18,154.31 300.35,154.31 301.51,154.3 302.68,154.3 303.84,154.3 305,154.3 306.17,154.3 307.34,154.3 308.5,154.3" fill="none" stroke="#b8173f" stroke-width="1.05" stroke-linejoin="round"/>
<line x1="215.3" y1="212.5" x2="215.3" y2="215.3" stroke="#b8173f" stroke-width="0.8"/>
<line x1="214.1" y1="212.5" x2="216.5" y2="212.5" stroke="#b8173f" stroke-width="0.7"/>
<line x1="214.1" y1="215.3" x2="216.5" y2="215.3" stroke="#b8173f" stroke-width="0.7"/>
<circle cx="215.3" cy="213.9" r="1.7" fill="#b8173f"/>
<line x1="224.6" y1="213.1" x2="224.6" y2="215.9" stroke="#b8173f" stroke-width="0.8"/>
<line x1="223.4" y1="213.1" x2="225.8" y2="213.1" stroke="#b8173f" stroke-width="0.7"/>
<line x1="223.4" y1="215.9" x2="225.8" y2="215.9" stroke="#b8173f" stroke-width="0.7"/>
<circle cx="224.6" cy="214.5" r="1.7" fill="#b8173f"/>
<line x1="234" y1="213.1" x2="234" y2="215.9" stroke="#b8173f" stroke-width="0.8"/>
<line x1="232.8" y1="213.1" x2="235.2" y2="213.1" stroke="#b8173f" stroke-width="0.7"/>
<line x1="232.8" y1="215.9" x2="235.2" y2="215.9" stroke="#b8173f" stroke-width="0.7"/>
<circle cx="234" cy="214.5" r="1.7" fill="#b8173f"/>
<line x1="243.2" y1="212.7" x2="243.2" y2="215.5" stroke="#b8173f" stroke-width="0.8"/>
<line x1="242" y1="212.7" x2="244.4" y2="212.7" stroke="#b8173f" stroke-width="0.7"/>
<line x1="242" y1="215.5" x2="244.4" y2="215.5" stroke="#b8173f" stroke-width="0.7"/>
<circle cx="243.2" cy="214.1" r="1.7" fill="#b8173f"/>
<line x1="252.6" y1="205" x2="252.6" y2="207.8" stroke="#b8173f" stroke-width="0.8"/>
<line x1="251.4" y1="205" x2="253.8" y2="205" stroke="#b8173f" stroke-width="0.7"/>
<line x1="251.4" y1="207.8" x2="253.8" y2="207.8" stroke="#b8173f" stroke-width="0.7"/>
<circle cx="252.6" cy="206.4" r="1.7" fill="#b8173f"/>
<line x1="261.8" y1="173.5" x2="261.8" y2="184.5" stroke="#b8173f" stroke-width="0.8"/>
<line x1="260.6" y1="173.5" x2="263" y2="173.5" stroke="#b8173f" stroke-width="0.7"/>
<line x1="260.6" y1="184.5" x2="263" y2="184.5" stroke="#b8173f" stroke-width="0.7"/>
<circle cx="261.8" cy="179" r="1.7" fill="#b8173f"/>
<line x1="271.3" y1="152.1" x2="271.3" y2="166.5" stroke="#b8173f" stroke-width="0.8"/>
<line x1="270.1" y1="152.1" x2="272.5" y2="152.1" stroke="#b8173f" stroke-width="0.7"/>
<line x1="270.1" y1="166.5" x2="272.5" y2="166.5" stroke="#b8173f" stroke-width="0.7"/>
<circle cx="271.3" cy="159.3" r="1.7" fill="#b8173f"/>
<line x1="280.7" y1="148.9" x2="280.7" y2="159.7" stroke="#b8173f" stroke-width="0.8"/>
<line x1="279.5" y1="148.9" x2="281.9" y2="148.9" stroke="#b8173f" stroke-width="0.7"/>
<line x1="279.5" y1="159.7" x2="281.9" y2="159.7" stroke="#b8173f" stroke-width="0.7"/>
<circle cx="280.7" cy="154.3" r="1.7" fill="#b8173f"/>
<line x1="289.9" y1="148.9" x2="289.9" y2="159.7" stroke="#b8173f" stroke-width="0.8"/>
<line x1="288.7" y1="148.9" x2="291.1" y2="148.9" stroke="#b8173f" stroke-width="0.7"/>
<line x1="288.7" y1="159.7" x2="291.1" y2="159.7" stroke="#b8173f" stroke-width="0.7"/>
<circle cx="289.9" cy="154.3" r="1.7" fill="#b8173f"/>
<line x1="299.1" y1="148.7" x2="299.1" y2="159.9" stroke="#b8173f" stroke-width="0.8"/>
<line x1="297.9" y1="148.7" x2="300.3" y2="148.7" stroke="#b8173f" stroke-width="0.7"/>
<line x1="297.9" y1="159.9" x2="300.3" y2="159.9" stroke="#b8173f" stroke-width="0.7"/>
<circle cx="299.1" cy="154.3" r="1.7" fill="#b8173f"/>
<line x1="308.5" y1="149.1" x2="308.5" y2="159.5" stroke="#b8173f" stroke-width="0.8"/>
<line x1="307.3" y1="149.1" x2="309.7" y2="149.1" stroke="#b8173f" stroke-width="0.7"/>
<line x1="307.3" y1="159.5" x2="309.7" y2="159.5" stroke="#b8173f" stroke-width="0.7"/>
<circle cx="308.5" cy="154.3" r="1.7" fill="#b8173f"/>
<polyline points="215.3,216 216.47,216 217.63,216 218.8,216 219.96,216 221.12,216 222.29,216 223.46,216 224.62,216 225.79,215.99 226.95,215.99 228.12,215.99 229.28,215.99 230.45,215.99 231.61,215.98 232.78,215.98 233.94,215.97 235.11,215.97 236.27,215.96 237.44,215.95 238.6,215.94 239.77,215.92 240.93,215.91 242.09,215.88 243.26,215.86 244.43,215.82 245.59,215.78 246.75,215.73 247.92,215.66 249.09,215.58 250.25,215.48 251.42,215.36 252.58,215.2 253.75,215.01 254.91,214.78 256.07,214.5 257.24,214.15 258.41,213.72 259.57,213.19 260.74,212.55 261.9,211.78 263.06,210.85 264.23,209.73 265.39,208.41 266.56,206.85 267.73,205.04 268.89,202.96 270.06,200.6 271.22,197.98 272.38,195.11 273.55,192.03 274.72,188.8 275.88,185.49 277.05,182.17 278.21,178.92 279.38,175.81 280.54,172.9 281.71,170.22 282.87,167.8 284.03,165.67 285.2,163.8 286.37,162.19 287.53,160.82 288.69,159.67 289.86,158.7 291.02,157.9 292.19,157.23 293.36,156.68 294.52,156.24 295.69,155.87 296.85,155.57 298.01,155.33 299.18,155.13 300.35,154.97 301.51,154.84 302.68,154.74 303.84,154.65 305,154.59 306.17,154.53 307.34,154.49 308.5,154.45" fill="none" stroke="#d3136f" stroke-width="1.05" stroke-linejoin="round"/>
<line x1="215.3" y1="214.2" x2="215.3" y2="217" stroke="#d3136f" stroke-width="0.8"/>
<line x1="214.1" y1="214.2" x2="216.5" y2="214.2" stroke="#d3136f" stroke-width="0.7"/>
<line x1="214.1" y1="217" x2="216.5" y2="217" stroke="#d3136f" stroke-width="0.7"/>
<rect x="213.8" y="214.1" width="3.0" height="3.0" fill="#d3136f"/>
<line x1="224.6" y1="214.6" x2="224.6" y2="217.4" stroke="#d3136f" stroke-width="0.8"/>
<line x1="223.4" y1="214.6" x2="225.8" y2="214.6" stroke="#d3136f" stroke-width="0.7"/>
<line x1="223.4" y1="217.4" x2="225.8" y2="217.4" stroke="#d3136f" stroke-width="0.7"/>
<rect x="223.1" y="214.5" width="3.0" height="3.0" fill="#d3136f"/>
<line x1="234" y1="214.6" x2="234" y2="217.4" stroke="#d3136f" stroke-width="0.8"/>
<line x1="232.8" y1="214.6" x2="235.2" y2="214.6" stroke="#d3136f" stroke-width="0.7"/>
<line x1="232.8" y1="217.4" x2="235.2" y2="217.4" stroke="#d3136f" stroke-width="0.7"/>
<rect x="232.5" y="214.5" width="3.0" height="3.0" fill="#d3136f"/>
<line x1="243.2" y1="214.6" x2="243.2" y2="217.4" stroke="#d3136f" stroke-width="0.8"/>
<line x1="242" y1="214.6" x2="244.4" y2="214.6" stroke="#d3136f" stroke-width="0.7"/>
<line x1="242" y1="217.4" x2="244.4" y2="217.4" stroke="#d3136f" stroke-width="0.7"/>
<rect x="241.7" y="214.5" width="3.0" height="3.0" fill="#d3136f"/>
<line x1="252.6" y1="214.2" x2="252.6" y2="217" stroke="#d3136f" stroke-width="0.8"/>
<line x1="251.4" y1="214.2" x2="253.8" y2="214.2" stroke="#d3136f" stroke-width="0.7"/>
<line x1="251.4" y1="217" x2="253.8" y2="217" stroke="#d3136f" stroke-width="0.7"/>
<rect x="251.1" y="214.1" width="3.0" height="3.0" fill="#d3136f"/>
<line x1="261.8" y1="212" x2="261.8" y2="214.8" stroke="#d3136f" stroke-width="0.8"/>
<line x1="260.6" y1="212" x2="263" y2="212" stroke="#d3136f" stroke-width="0.7"/>
<line x1="260.6" y1="214.8" x2="263" y2="214.8" stroke="#d3136f" stroke-width="0.7"/>
<rect x="260.3" y="211.9" width="3.0" height="3.0" fill="#d3136f"/>
<line x1="271.3" y1="188.3" x2="271.3" y2="210.9" stroke="#d3136f" stroke-width="0.8"/>
<line x1="270.1" y1="188.3" x2="272.5" y2="188.3" stroke="#d3136f" stroke-width="0.7"/>
<line x1="270.1" y1="210.9" x2="272.5" y2="210.9" stroke="#d3136f" stroke-width="0.7"/>
<rect x="269.8" y="198.1" width="3.0" height="3.0" fill="#d3136f"/>
<line x1="280.7" y1="159.8" x2="280.7" y2="185" stroke="#d3136f" stroke-width="0.8"/>
<line x1="279.5" y1="159.8" x2="281.9" y2="159.8" stroke="#d3136f" stroke-width="0.7"/>
<line x1="279.5" y1="185" x2="281.9" y2="185" stroke="#d3136f" stroke-width="0.7"/>
<rect x="279.2" y="170.9" width="3.0" height="3.0" fill="#d3136f"/>
<line x1="289.9" y1="151.9" x2="289.9" y2="166.7" stroke="#d3136f" stroke-width="0.8"/>
<line x1="288.7" y1="151.9" x2="291.1" y2="151.9" stroke="#d3136f" stroke-width="0.7"/>
<line x1="288.7" y1="166.7" x2="291.1" y2="166.7" stroke="#d3136f" stroke-width="0.7"/>
<rect x="288.4" y="157.8" width="3.0" height="3.0" fill="#d3136f"/>
<line x1="299.1" y1="148.9" x2="299.1" y2="160.9" stroke="#d3136f" stroke-width="0.8"/>
<line x1="297.9" y1="148.9" x2="300.3" y2="148.9" stroke="#d3136f" stroke-width="0.7"/>
<line x1="297.9" y1="160.9" x2="300.3" y2="160.9" stroke="#d3136f" stroke-width="0.7"/>
<rect x="297.6" y="153.4" width="3.0" height="3.0" fill="#d3136f"/>
<line x1="308.5" y1="149.1" x2="308.5" y2="159.5" stroke="#d3136f" stroke-width="0.8"/>
<line x1="307.3" y1="149.1" x2="309.7" y2="149.1" stroke="#d3136f" stroke-width="0.7"/>
<line x1="307.3" y1="159.5" x2="309.7" y2="159.5" stroke="#d3136f" stroke-width="0.7"/>
<rect x="307" y="152.8" width="3.0" height="3.0" fill="#d3136f"/>
<line x1="363.9" y1="143.3" x2="363.9" y2="217.8" stroke="#444" stroke-width="1.8"/>
<line x1="360.6" y1="216.9" x2="363.9" y2="216.9" stroke="#3a3a3a" stroke-width="0.9"/>
<text x="359.2" y="218.8" font-size="5.4" text-anchor="end" font-weight="normal" fill="#444" stroke="#444" stroke-width="0.22">0</text>
<line x1="360.6" y1="199.08" x2="363.9" y2="199.08" stroke="#3a3a3a" stroke-width="0.9"/>
<text x="359.2" y="200.98" font-size="5.4" text-anchor="end" font-weight="normal" fill="#444" stroke="#444" stroke-width="0.22">25</text>
<line x1="360.6" y1="181.25" x2="363.9" y2="181.25" stroke="#3a3a3a" stroke-width="0.9"/>
<text x="359.2" y="183.15" font-size="5.4" text-anchor="end" font-weight="normal" fill="#444" stroke="#444" stroke-width="0.22">50</text>
<line x1="360.6" y1="163.43" x2="363.9" y2="163.43" stroke="#3a3a3a" stroke-width="0.9"/>
<text x="359.2" y="165.33" font-size="5.4" text-anchor="end" font-weight="normal" fill="#444" stroke="#444" stroke-width="0.22">75</text>
<line x1="360.6" y1="145.6" x2="363.9" y2="145.6" stroke="#3a3a3a" stroke-width="0.9"/>
<text x="359.2" y="147.5" font-size="5.4" text-anchor="end" font-weight="normal" fill="#444" stroke="#444" stroke-width="0.22">100</text>
<text transform="translate(344.5,181.6) rotate(-90)" x="0" y="0" font-size="7" text-anchor="middle" font-weight="bold" fill="#222" textLength="32.4" lengthAdjust="spacingAndGlyphs" dominant-baseline="central">pSTAT5+ (%)</text>
<line x1="363.1" y1="216.8" x2="473.7" y2="216.8" stroke="#444" stroke-width="1.7"/>
<line x1="363.9" y1="216.8" x2="363.9" y2="219.6" stroke="#3a3a3a" stroke-width="0.9"/>
<text x="365.3" y="226.3" font-size="5.2" text-anchor="end" font-weight="normal" fill="#444" stroke="#444" stroke-width="0.22">10</text>
<text x="365.7" y="222.7" font-size="3.5" text-anchor="start" font-weight="normal" fill="#444" stroke="#444" stroke-width="0.22">&#8722;2</text>
<line x1="390.5" y1="216.8" x2="390.5" y2="219.6" stroke="#3a3a3a" stroke-width="0.9"/>
<text x="391.9" y="226.3" font-size="5.2" text-anchor="end" font-weight="normal" fill="#444" stroke="#444" stroke-width="0.22">10</text>
<text x="392.3" y="222.7" font-size="3.5" text-anchor="start" font-weight="normal" fill="#444" stroke="#444" stroke-width="0.22">&#8722;1</text>
<line x1="417.1" y1="216.8" x2="417.1" y2="219.6" stroke="#3a3a3a" stroke-width="0.9"/>
<text x="418.5" y="226.3" font-size="5.2" text-anchor="end" font-weight="normal" fill="#444" stroke="#444" stroke-width="0.22">10</text>
<text x="418.9" y="222.7" font-size="3.5" text-anchor="start" font-weight="normal" fill="#444" stroke="#444" stroke-width="0.22">0</text>
<line x1="443.7" y1="216.8" x2="443.7" y2="219.6" stroke="#3a3a3a" stroke-width="0.9"/>
<text x="445.1" y="226.3" font-size="5.2" text-anchor="end" font-weight="normal" fill="#444" stroke="#444" stroke-width="0.22">10</text>
<text x="445.5" y="222.7" font-size="3.5" text-anchor="start" font-weight="normal" fill="#444" stroke="#444" stroke-width="0.22">1</text>
<line x1="470.3" y1="216.8" x2="470.3" y2="219.6" stroke="#3a3a3a" stroke-width="0.9"/>
<text x="471.7" y="226.3" font-size="5.2" text-anchor="end" font-weight="normal" fill="#444" stroke="#444" stroke-width="0.22">10</text>
<text x="472.1" y="222.7" font-size="3.5" text-anchor="start" font-weight="normal" fill="#444" stroke="#444" stroke-width="0.22">2</text>
<text x="417.5" y="235.8" font-size="7.5" text-anchor="middle" font-weight="bold" fill="#222" textLength="55" lengthAdjust="spacingAndGlyphs">Concentration (ng/mL)</text>
<text x="393.4" y="137.6" font-size="9" text-anchor="start" font-weight="normal" fill="#2a2a2a">CD4<tspan font-size="6.4" dx="0.5" dy="-2.8">+</tspan><tspan dx="0.9" dy="2.8"> T cells</tspan></text>
<polyline points="377.4,214.5 378.56,214.5 379.71,214.5 380.87,214.5 382.02,214.5 383.18,214.5 384.34,214.5 385.49,214.5 386.65,214.5 387.81,214.49 388.96,214.49 390.12,214.49 391.27,214.49 392.43,214.48 393.59,214.48 394.74,214.47 395.9,214.46 397.06,214.45 398.21,214.44 399.37,214.42 400.52,214.39 401.68,214.36 402.84,214.31 403.99,214.26 405.15,214.18 406.31,214.08 407.46,213.95 408.62,213.78 409.77,213.55 410.93,213.26 412.09,212.89 413.24,212.41 414.4,211.79 415.56,211.02 416.71,210.05 417.87,208.85 419.02,207.41 420.18,205.7 421.34,203.74 422.49,201.54 423.65,199.16 424.81,196.67 425.96,194.17 427.12,191.74 428.27,189.47 429.43,187.43 430.59,185.63 431.74,184.1 432.9,182.83 434.06,181.79 435.21,180.95 436.37,180.28 437.52,179.76 438.68,179.35 439.84,179.04 440.99,178.79 442.15,178.6 443.31,178.46 444.46,178.35 445.62,178.27 446.77,178.2 447.93,178.15 449.09,178.12 450.24,178.09 451.4,178.07 452.56,178.05 453.71,178.04 454.87,178.03 456.02,178.02 457.18,178.02 458.34,178.01 459.49,178.01 460.65,178.01 461.81,178.01 462.96,178 464.12,178 465.27,178 466.43,178 467.59,178 468.74,178 469.9,178" fill="none" stroke="#b8173f" stroke-width="1.05" stroke-linejoin="round"/>
<line x1="377.4" y1="212.9" x2="377.4" y2="215.7" stroke="#b8173f" stroke-width="0.8"/>
<line x1="376.2" y1="212.9" x2="378.6" y2="212.9" stroke="#b8173f" stroke-width="0.7"/>
<line x1="376.2" y1="215.7" x2="378.6" y2="215.7" stroke="#b8173f" stroke-width="0.7"/>
<circle cx="377.4" cy="214.3" r="1.7" fill="#b8173f"/>
<line x1="386.6" y1="213.1" x2="386.6" y2="215.9" stroke="#b8173f" stroke-width="0.8"/>
<line x1="385.4" y1="213.1" x2="387.8" y2="213.1" stroke="#b8173f" stroke-width="0.7"/>
<line x1="385.4" y1="215.9" x2="387.8" y2="215.9" stroke="#b8173f" stroke-width="0.7"/>
<circle cx="386.6" cy="214.5" r="1.7" fill="#b8173f"/>
<line x1="395.8" y1="213.1" x2="395.8" y2="215.9" stroke="#b8173f" stroke-width="0.8"/>
<line x1="394.6" y1="213.1" x2="397" y2="213.1" stroke="#b8173f" stroke-width="0.7"/>
<line x1="394.6" y1="215.9" x2="397" y2="215.9" stroke="#b8173f" stroke-width="0.7"/>
<circle cx="395.8" cy="214.5" r="1.7" fill="#b8173f"/>
<line x1="405.1" y1="213.1" x2="405.1" y2="215.9" stroke="#b8173f" stroke-width="0.8"/>
<line x1="403.9" y1="213.1" x2="406.3" y2="213.1" stroke="#b8173f" stroke-width="0.7"/>
<line x1="403.9" y1="215.9" x2="406.3" y2="215.9" stroke="#b8173f" stroke-width="0.7"/>
<circle cx="405.1" cy="214.5" r="1.7" fill="#b8173f"/>
<line x1="414.5" y1="210.6" x2="414.5" y2="213.4" stroke="#b8173f" stroke-width="0.8"/>
<line x1="413.3" y1="210.6" x2="415.7" y2="210.6" stroke="#b8173f" stroke-width="0.7"/>
<line x1="413.3" y1="213.4" x2="415.7" y2="213.4" stroke="#b8173f" stroke-width="0.7"/>
<circle cx="414.5" cy="212" r="1.7" fill="#b8173f"/>
<circle cx="423.8" cy="198.8" r="1.7" fill="#b8173f"/>
<line x1="433" y1="180.3" x2="433" y2="186.1" stroke="#b8173f" stroke-width="0.8"/>
<line x1="431.8" y1="180.3" x2="434.2" y2="180.3" stroke="#b8173f" stroke-width="0.7"/>
<line x1="431.8" y1="186.1" x2="434.2" y2="186.1" stroke="#b8173f" stroke-width="0.7"/>
<circle cx="433" cy="183.2" r="1.7" fill="#b8173f"/>
<line x1="442.2" y1="175.7" x2="442.2" y2="181.9" stroke="#b8173f" stroke-width="0.8"/>
<line x1="441" y1="175.7" x2="443.4" y2="175.7" stroke="#b8173f" stroke-width="0.7"/>
<line x1="441" y1="181.9" x2="443.4" y2="181.9" stroke="#b8173f" stroke-width="0.7"/>
<circle cx="442.2" cy="178.8" r="1.7" fill="#b8173f"/>
<line x1="451.5" y1="174.9" x2="451.5" y2="181.3" stroke="#b8173f" stroke-width="0.8"/>
<line x1="450.3" y1="174.9" x2="452.7" y2="174.9" stroke="#b8173f" stroke-width="0.7"/>
<line x1="450.3" y1="181.3" x2="452.7" y2="181.3" stroke="#b8173f" stroke-width="0.7"/>
<circle cx="451.5" cy="178.1" r="1.7" fill="#b8173f"/>
<line x1="460.7" y1="173.7" x2="460.7" y2="180.1" stroke="#b8173f" stroke-width="0.8"/>
<line x1="459.5" y1="173.7" x2="461.9" y2="173.7" stroke="#b8173f" stroke-width="0.7"/>
<line x1="459.5" y1="180.1" x2="461.9" y2="180.1" stroke="#b8173f" stroke-width="0.7"/>
<circle cx="460.7" cy="176.9" r="1.7" fill="#b8173f"/>
<line x1="469.9" y1="173.7" x2="469.9" y2="180.1" stroke="#b8173f" stroke-width="0.8"/>
<line x1="468.7" y1="173.7" x2="471.1" y2="173.7" stroke="#b8173f" stroke-width="0.7"/>
<line x1="468.7" y1="180.1" x2="471.1" y2="180.1" stroke="#b8173f" stroke-width="0.7"/>
<circle cx="469.9" cy="176.9" r="1.7" fill="#b8173f"/>
<polyline points="377.4,215.5 378.56,215.5 379.71,215.5 380.87,215.5 382.02,215.5 383.18,215.5 384.34,215.5 385.49,215.5 386.65,215.5 387.81,215.5 388.96,215.5 390.12,215.5 391.27,215.5 392.43,215.5 393.59,215.5 394.74,215.5 395.9,215.5 397.06,215.5 398.21,215.5 399.37,215.49 400.52,215.49 401.68,215.49 402.84,215.49 403.99,215.48 405.15,215.48 406.31,215.47 407.46,215.47 408.62,215.46 409.77,215.44 410.93,215.43 412.09,215.41 413.24,215.38 414.4,215.35 415.56,215.31 416.71,215.26 417.87,215.19 419.02,215.11 420.18,215 421.34,214.86 422.49,214.69 423.65,214.47 424.81,214.19 425.96,213.84 427.12,213.4 428.27,212.86 429.43,212.19 430.59,211.36 431.74,210.36 432.9,209.15 434.06,207.74 435.21,206.09 436.37,204.23 437.52,202.16 438.68,199.93 439.84,197.58 440.99,195.18 442.15,192.81 443.31,190.54 444.46,188.41 445.62,186.48 446.77,184.76 447.93,183.27 449.09,182 450.24,180.94 451.4,180.06 452.56,179.34 453.71,178.76 454.87,178.29 456.02,177.91 457.18,177.61 458.34,177.38 459.49,177.19 460.65,177.04 461.81,176.92 462.96,176.83 464.12,176.76 465.27,176.7 466.43,176.66 467.59,176.62 468.74,176.6 469.9,176.58" fill="none" stroke="#d3136f" stroke-width="1.05" stroke-linejoin="round"/>
<line x1="377.4" y1="214.1" x2="377.4" y2="216.9" stroke="#d3136f" stroke-width="0.8"/>
<line x1="376.2" y1="214.1" x2="378.6" y2="214.1" stroke="#d3136f" stroke-width="0.7"/>
<line x1="376.2" y1="216.9" x2="378.6" y2="216.9" stroke="#d3136f" stroke-width="0.7"/>
<rect x="375.9" y="214" width="3.0" height="3.0" fill="#d3136f"/>
<line x1="386.6" y1="214.1" x2="386.6" y2="216.9" stroke="#d3136f" stroke-width="0.8"/>
<line x1="385.4" y1="214.1" x2="387.8" y2="214.1" stroke="#d3136f" stroke-width="0.7"/>
<line x1="385.4" y1="216.9" x2="387.8" y2="216.9" stroke="#d3136f" stroke-width="0.7"/>
<rect x="385.1" y="214" width="3.0" height="3.0" fill="#d3136f"/>
<line x1="395.8" y1="214.1" x2="395.8" y2="216.9" stroke="#d3136f" stroke-width="0.8"/>
<line x1="394.6" y1="214.1" x2="397" y2="214.1" stroke="#d3136f" stroke-width="0.7"/>
<line x1="394.6" y1="216.9" x2="397" y2="216.9" stroke="#d3136f" stroke-width="0.7"/>
<rect x="394.3" y="214" width="3.0" height="3.0" fill="#d3136f"/>
<line x1="405.1" y1="214.1" x2="405.1" y2="216.9" stroke="#d3136f" stroke-width="0.8"/>
<line x1="403.9" y1="214.1" x2="406.3" y2="214.1" stroke="#d3136f" stroke-width="0.7"/>
<line x1="403.9" y1="216.9" x2="406.3" y2="216.9" stroke="#d3136f" stroke-width="0.7"/>
<rect x="403.6" y="214" width="3.0" height="3.0" fill="#d3136f"/>
<line x1="414.5" y1="214.1" x2="414.5" y2="216.9" stroke="#d3136f" stroke-width="0.8"/>
<line x1="413.3" y1="214.1" x2="415.7" y2="214.1" stroke="#d3136f" stroke-width="0.7"/>
<line x1="413.3" y1="216.9" x2="415.7" y2="216.9" stroke="#d3136f" stroke-width="0.7"/>
<rect x="413" y="214" width="3.0" height="3.0" fill="#d3136f"/>
<line x1="423.8" y1="213.6" x2="423.8" y2="216.4" stroke="#d3136f" stroke-width="0.8"/>
<line x1="422.6" y1="213.6" x2="425" y2="213.6" stroke="#d3136f" stroke-width="0.7"/>
<line x1="422.6" y1="216.4" x2="425" y2="216.4" stroke="#d3136f" stroke-width="0.7"/>
<rect x="422.3" y="213.5" width="3.0" height="3.0" fill="#d3136f"/>
<line x1="433" y1="206.4" x2="433" y2="210.6" stroke="#d3136f" stroke-width="0.8"/>
<line x1="431.8" y1="206.4" x2="434.2" y2="206.4" stroke="#d3136f" stroke-width="0.7"/>
<line x1="431.8" y1="210.6" x2="434.2" y2="210.6" stroke="#d3136f" stroke-width="0.7"/>
<rect x="431.5" y="207" width="3.0" height="3.0" fill="#d3136f"/>
<line x1="442.2" y1="186.3" x2="442.2" y2="198.9" stroke="#d3136f" stroke-width="0.8"/>
<line x1="441" y1="186.3" x2="443.4" y2="186.3" stroke="#d3136f" stroke-width="0.7"/>
<line x1="441" y1="198.9" x2="443.4" y2="198.9" stroke="#d3136f" stroke-width="0.7"/>
<rect x="440.7" y="191.1" width="3.0" height="3.0" fill="#d3136f"/>
<line x1="451.5" y1="174.5" x2="451.5" y2="184.9" stroke="#d3136f" stroke-width="0.8"/>
<line x1="450.3" y1="174.5" x2="452.7" y2="174.5" stroke="#d3136f" stroke-width="0.7"/>
<line x1="450.3" y1="184.9" x2="452.7" y2="184.9" stroke="#d3136f" stroke-width="0.7"/>
<rect x="450" y="178.2" width="3.0" height="3.0" fill="#d3136f"/>
<line x1="460.7" y1="173.5" x2="460.7" y2="180.3" stroke="#d3136f" stroke-width="0.8"/>
<line x1="459.5" y1="173.5" x2="461.9" y2="173.5" stroke="#d3136f" stroke-width="0.7"/>
<line x1="459.5" y1="180.3" x2="461.9" y2="180.3" stroke="#d3136f" stroke-width="0.7"/>
<rect x="459.2" y="175.4" width="3.0" height="3.0" fill="#d3136f"/>
<line x1="469.9" y1="173.1" x2="469.9" y2="179.3" stroke="#d3136f" stroke-width="0.8"/>
<line x1="468.7" y1="173.1" x2="471.1" y2="173.1" stroke="#d3136f" stroke-width="0.7"/>
<line x1="468.7" y1="179.3" x2="471.1" y2="179.3" stroke="#d3136f" stroke-width="0.7"/>
<rect x="468.4" y="174.7" width="3.0" height="3.0" fill="#d3136f"/>
<line x1="486.8" y1="177.2" x2="495.2" y2="177.2" stroke="#b8173f" stroke-width="0.9"/>
<circle cx="491" cy="177.2" r="1.3" fill="#b8173f"/>
<text x="498" y="178.9" font-size="4.8" text-anchor="start" font-weight="normal" fill="#444" textLength="13.8" lengthAdjust="spacingAndGlyphs" stroke="#444" stroke-width="0.22">rhIL-15</text>
<line x1="486.8" y1="185.4" x2="495.2" y2="185.4" stroke="#d3136f" stroke-width="0.9"/>
<rect x="489.8" y="184.2" width="2.4" height="2.4" fill="#d3136f"/>
<text x="498" y="187.1" font-size="4.8" text-anchor="start" font-weight="normal" fill="#444" textLength="21" lengthAdjust="spacingAndGlyphs" stroke="#444" stroke-width="0.22">NKTR-255</text>
<text x="82.3" y="265.9" font-size="9" text-anchor="start" font-weight="normal" fill="#2a2a2a">NK cells</text>
<text x="237.1" y="265.9" font-size="9" text-anchor="start" font-weight="normal" fill="#2a2a2a">CD8<tspan font-size="6.4" dx="0.5" dy="-2.8">+</tspan><tspan dx="0.7" dy="2.8"> T cells</tspan></text>
<text x="400.2" y="265.9" font-size="9" text-anchor="start" font-weight="normal" fill="#2a2a2a">CD4<tspan font-size="6.4" dx="0.5" dy="-2.8">+</tspan><tspan dx="0.7" dy="2.8"> T cells</tspan></text>
<polyline points="39.8,326.3 48.6,326 58.7,324.8 65.7,323.5 71.3,333 77,331.7 82.7,326.7 88.4,326.3 94,329.8 100.1,326.5 117.2,331.9 140.5,327.9 157.6,324.5" fill="none" stroke="#c8283a" stroke-width="1.05" stroke-linejoin="round"/>
<circle cx="39.8" cy="326.3" r="1.3" fill="#c8283a"/>
<circle cx="48.6" cy="326" r="1.3" fill="#c8283a"/>
<circle cx="58.7" cy="324.8" r="1.3" fill="#c8283a"/>
<circle cx="65.7" cy="323.5" r="1.3" fill="#c8283a"/>
<circle cx="71.3" cy="333" r="1.3" fill="#c8283a"/>
<circle cx="77" cy="331.7" r="1.3" fill="#c8283a"/>
<circle cx="82.7" cy="326.7" r="1.3" fill="#c8283a"/>
<circle cx="88.4" cy="326.3" r="1.3" fill="#c8283a"/>
<circle cx="94" cy="329.8" r="1.3" fill="#c8283a"/>
<circle cx="100.1" cy="326.5" r="1.3" fill="#c8283a"/>
<circle cx="117.2" cy="331.9" r="1.3" fill="#c8283a"/>
<circle cx="140.5" cy="327.9" r="1.3" fill="#c8283a"/>
<circle cx="157.6" cy="324.5" r="1.3" fill="#c8283a"/>
<polyline points="39.8,327.3 48.6,330.5 58.7,333.6 65.7,334 71.3,329.8 77,323.5 82.7,325.4 88.4,324.2 94,330.5 100.1,332.3 117.2,327.5 140.5,328.6 157.6,325.2" fill="none" stroke="#4cab4c" stroke-width="1.05" stroke-linejoin="round"/>
<circle cx="39.8" cy="327.3" r="1.3" fill="#4cab4c"/>
<circle cx="48.6" cy="330.5" r="1.3" fill="#4cab4c"/>
<circle cx="58.7" cy="333.6" r="1.3" fill="#4cab4c"/>
<circle cx="65.7" cy="334" r="1.3" fill="#4cab4c"/>
<circle cx="71.3" cy="329.8" r="1.3" fill="#4cab4c"/>
<circle cx="77" cy="323.5" r="1.3" fill="#4cab4c"/>
<circle cx="82.7" cy="325.4" r="1.3" fill="#4cab4c"/>
<circle cx="88.4" cy="324.2" r="1.3" fill="#4cab4c"/>
<circle cx="94" cy="330.5" r="1.3" fill="#4cab4c"/>
<circle cx="100.1" cy="332.3" r="1.3" fill="#4cab4c"/>
<circle cx="117.2" cy="327.5" r="1.3" fill="#4cab4c"/>
<circle cx="140.5" cy="328.6" r="1.3" fill="#4cab4c"/>
<circle cx="157.6" cy="325.2" r="1.3" fill="#4cab4c"/>
<polyline points="39.8,321 48.6,325.4 58.7,330.5 65.7,333.6 71.3,328.6 77,311.5 82.7,305.9 88.4,292.6 94,311.5 100.1,314.2 117.2,312.8 140.5,315.4 157.6,318.9" fill="none" stroke="#40658f" stroke-width="1.05" stroke-linejoin="round"/>
<circle cx="39.8" cy="321" r="1.3" fill="#40658f"/>
<circle cx="48.6" cy="325.4" r="1.3" fill="#40658f"/>
<circle cx="58.7" cy="330.5" r="1.3" fill="#40658f"/>
<circle cx="65.7" cy="333.6" r="1.3" fill="#40658f"/>
<circle cx="71.3" cy="328.6" r="1.3" fill="#40658f"/>
<circle cx="77" cy="311.5" r="1.3" fill="#40658f"/>
<circle cx="82.7" cy="305.9" r="1.3" fill="#40658f"/>
<circle cx="88.4" cy="292.6" r="1.3" fill="#40658f"/>
<circle cx="94" cy="311.5" r="1.3" fill="#40658f"/>
<circle cx="100.1" cy="314.2" r="1.3" fill="#40658f"/>
<circle cx="117.2" cy="312.8" r="1.3" fill="#40658f"/>
<circle cx="140.5" cy="315.4" r="1.3" fill="#40658f"/>
<circle cx="157.6" cy="318.9" r="1.3" fill="#40658f"/>
<polyline points="39.8,324.2 48.6,325 58.7,332 65.7,334 71.3,333.6 77,328 82.7,305.9 88.4,284.4 94,286.3 100.1,287.1 117.2,319.1 140.5,322.8 157.6,328.3" fill="none" stroke="#512d5e" stroke-width="1.05" stroke-linejoin="round"/>
<circle cx="39.8" cy="324.2" r="1.3" fill="#2e1a3a"/>
<circle cx="48.6" cy="325" r="1.3" fill="#2e1a3a"/>
<circle cx="58.7" cy="332" r="1.3" fill="#2e1a3a"/>
<circle cx="65.7" cy="334" r="1.3" fill="#2e1a3a"/>
<circle cx="71.3" cy="333.6" r="1.3" fill="#2e1a3a"/>
<circle cx="77" cy="328" r="1.3" fill="#2e1a3a"/>
<circle cx="82.7" cy="305.9" r="1.3" fill="#2e1a3a"/>
<circle cx="88.4" cy="284.4" r="1.3" fill="#2e1a3a"/>
<circle cx="94" cy="286.3" r="1.3" fill="#2e1a3a"/>
<circle cx="100.1" cy="287.1" r="1.3" fill="#2e1a3a"/>
<circle cx="117.2" cy="319.1" r="1.3" fill="#2e1a3a"/>
<circle cx="140.5" cy="322.8" r="1.3" fill="#2e1a3a"/>
<circle cx="157.6" cy="328.3" r="1.3" fill="#2e1a3a"/>
<rect x="54.2" y="271.3" width="3.8" height="67.2" fill="#fff"/>
<line x1="37" y1="271.3" x2="37" y2="335" stroke="#555" stroke-width="1.8"/>
<line x1="33.7" y1="334.5" x2="37" y2="334.5" stroke="#3a3a3a" stroke-width="0.9"/>
<text x="32.2" y="336.4" font-size="5.4" text-anchor="end" font-weight="normal" fill="#444" stroke="#444" stroke-width="0.22">0.0</text>
<line x1="33.7" y1="322.54" x2="37" y2="322.54" stroke="#3a3a3a" stroke-width="0.9"/>
<text x="32.2" y="324.44" font-size="5.4" text-anchor="end" font-weight="normal" fill="#444" stroke="#444" stroke-width="0.22">0.5</text>
<line x1="33.7" y1="310.58" x2="37" y2="310.58" stroke="#3a3a3a" stroke-width="0.9"/>
<text x="32.2" y="312.48" font-size="5.4" text-anchor="end" font-weight="normal" fill="#444" stroke="#444" stroke-width="0.22">1.0</text>
<line x1="33.7" y1="298.62" x2="37" y2="298.62" stroke="#3a3a3a" stroke-width="0.9"/>
<text x="32.2" y="300.52" font-size="5.4" text-anchor="end" font-weight="normal" fill="#444" stroke="#444" stroke-width="0.22">1.5</text>
<line x1="33.7" y1="286.66" x2="37" y2="286.66" stroke="#3a3a3a" stroke-width="0.9"/>
<text x="32.2" y="288.56" font-size="5.4" text-anchor="end" font-weight="normal" fill="#444" stroke="#444" stroke-width="0.22">2.0</text>
<line x1="33.7" y1="274.7" x2="37" y2="274.7" stroke="#3a3a3a" stroke-width="0.9"/>
<text x="32.2" y="276.6" font-size="5.4" text-anchor="end" font-weight="normal" fill="#444" stroke="#444" stroke-width="0.22">2.5</text>
<line x1="34" y1="334.5" x2="54" y2="334.5" stroke="#222" stroke-width="1.2"/>
<line x1="58.2" y1="334.5" x2="161" y2="334.5" stroke="#222" stroke-width="1.2"/>
<line x1="54" y1="333.3" x2="54" y2="335.7" stroke="#3a3a3a" stroke-width="0.8"/>
<line x1="58.2" y1="333.3" x2="58.2" y2="335.7" stroke="#3a3a3a" stroke-width="0.8"/>
<line x1="40" y1="334.5" x2="40" y2="337.3" stroke="#3a3a3a" stroke-width="0.9"/>
<text x="40" y="344" font-size="5.3" text-anchor="middle" font-weight="normal" fill="#444" stroke="#444" stroke-width="0.22">&#8722;5</text>
<line x1="49" y1="334.5" x2="49" y2="337.3" stroke="#3a3a3a" stroke-width="0.9"/>
<text x="49" y="344" font-size="5.3" text-anchor="middle" font-weight="normal" fill="#444" stroke="#444" stroke-width="0.22">&#8722;2</text>
<line x1="65.5" y1="334.5" x2="65.5" y2="337.3" stroke="#3a3a3a" stroke-width="0.9"/>
<text x="65.5" y="344" font-size="5.3" text-anchor="middle" font-weight="normal" fill="#444" stroke="#444" stroke-width="0.22">1</text>
<line x1="71.22" y1="334.5" x2="71.22" y2="337.3" stroke="#3a3a3a" stroke-width="0.9"/>
<text x="71.22" y="344" font-size="5.3" text-anchor="middle" font-weight="normal" fill="#444" stroke="#444" stroke-width="0.22">2</text>
<line x1="76.94" y1="334.5" x2="76.94" y2="337.3" stroke="#3a3a3a" stroke-width="0.9"/>
<text x="76.94" y="344" font-size="5.3" text-anchor="middle" font-weight="normal" fill="#444" stroke="#444" stroke-width="0.22">3</text>
<line x1="82.66" y1="334.5" x2="82.66" y2="337.3" stroke="#3a3a3a" stroke-width="0.9"/>
<text x="82.66" y="344" font-size="5.3" text-anchor="middle" font-weight="normal" fill="#444" stroke="#444" stroke-width="0.22">4</text>
<line x1="88.38" y1="334.5" x2="88.38" y2="337.3" stroke="#3a3a3a" stroke-width="0.9"/>
<text x="88.38" y="344" font-size="5.3" text-anchor="middle" font-weight="normal" fill="#444" stroke="#444" stroke-width="0.22">5</text>
<line x1="94.1" y1="334.5" x2="94.1" y2="337.3" stroke="#3a3a3a" stroke-width="0.9"/>
<text x="94.1" y="344" font-size="5.3" text-anchor="middle" font-weight="normal" fill="#444" stroke="#444" stroke-width="0.22">6</text>
<line x1="99.82" y1="334.5" x2="99.82" y2="337.3" stroke="#3a3a3a" stroke-width="0.9"/>
<text x="99.82" y="344" font-size="5.3" text-anchor="middle" font-weight="normal" fill="#444" stroke="#444" stroke-width="0.22">7</text>
<line x1="116.98" y1="334.5" x2="116.98" y2="337.3" stroke="#3a3a3a" stroke-width="0.9"/>
<text x="116.98" y="344" font-size="5.3" text-anchor="middle" font-weight="normal" fill="#444" stroke="#444" stroke-width="0.22">10</text>
<line x1="139.86" y1="334.5" x2="139.86" y2="337.3" stroke="#3a3a3a" stroke-width="0.9"/>
<text x="139.86" y="344" font-size="5.3" text-anchor="middle" font-weight="normal" fill="#444" stroke="#444" stroke-width="0.22">14</text>
<line x1="157.02" y1="334.5" x2="157.02" y2="337.3" stroke="#3a3a3a" stroke-width="0.9"/>
<text x="157.02" y="344" font-size="5.3" text-anchor="middle" font-weight="normal" fill="#444" stroke="#444" stroke-width="0.22">17</text>
<text x="97.7" y="353.5" font-size="7.5" text-anchor="middle" font-weight="bold" fill="#222" textLength="44.5" lengthAdjust="spacingAndGlyphs">Days after infusion</text>
<text transform="translate(16.9,303.5) rotate(-90)" x="0" y="0" font-size="7" text-anchor="middle" font-weight="bold" fill="#222" textLength="63.5" lengthAdjust="spacingAndGlyphs" dominant-baseline="central">Absolute number (10<tspan font-size="3.6" dy="-2">3</tspan><tspan dy="2">/&#956;L)</tspan></text>
<polyline points="204.8,326.7 213.6,322.9 223.4,325.4 230,326.7 235.6,327.3 241,326 246.4,327.3 251.7,326.3 257.4,328.8 263.3,328.7 280.2,323.9 302.7,326.5 319.6,323.5" fill="none" stroke="#c8283a" stroke-width="1.05" stroke-linejoin="round"/>
<circle cx="204.8" cy="326.7" r="1.3" fill="#c8283a"/>
<circle cx="213.6" cy="322.9" r="1.3" fill="#c8283a"/>
<circle cx="223.4" cy="325.4" r="1.3" fill="#c8283a"/>
<circle cx="230" cy="326.7" r="1.3" fill="#c8283a"/>
<circle cx="235.6" cy="327.3" r="1.3" fill="#c8283a"/>
<circle cx="241" cy="326" r="1.3" fill="#c8283a"/>
<circle cx="246.4" cy="327.3" r="1.3" fill="#c8283a"/>
<circle cx="251.7" cy="326.3" r="1.3" fill="#c8283a"/>
<circle cx="257.4" cy="328.8" r="1.3" fill="#c8283a"/>
<circle cx="263.3" cy="328.7" r="1.3" fill="#c8283a"/>
<circle cx="280.2" cy="323.9" r="1.3" fill="#c8283a"/>
<circle cx="302.7" cy="326.5" r="1.3" fill="#c8283a"/>
<circle cx="319.6" cy="323.5" r="1.3" fill="#c8283a"/>
<polyline points="204.8,328 213.6,325 223.4,325.8 230,327.3 235.6,328 241,325.4 246.4,326 251.7,325.4 257.4,326.3 263.3,327 280.2,327.9 302.7,325.9 319.6,323.9" fill="none" stroke="#4cab4c" stroke-width="1.05" stroke-linejoin="round"/>
<circle cx="204.8" cy="328" r="1.3" fill="#4cab4c"/>
<circle cx="213.6" cy="325" r="1.3" fill="#4cab4c"/>
<circle cx="223.4" cy="325.8" r="1.3" fill="#4cab4c"/>
<circle cx="230" cy="327.3" r="1.3" fill="#4cab4c"/>
<circle cx="235.6" cy="328" r="1.3" fill="#4cab4c"/>
<circle cx="241" cy="325.4" r="1.3" fill="#4cab4c"/>
<circle cx="246.4" cy="326" r="1.3" fill="#4cab4c"/>
<circle cx="251.7" cy="325.4" r="1.3" fill="#4cab4c"/>
<circle cx="257.4" cy="326.3" r="1.3" fill="#4cab4c"/>
<circle cx="263.3" cy="327" r="1.3" fill="#4cab4c"/>
<circle cx="280.2" cy="327.9" r="1.3" fill="#4cab4c"/>
<circle cx="302.7" cy="325.9" r="1.3" fill="#4cab4c"/>
<circle cx="319.6" cy="323.9" r="1.3" fill="#4cab4c"/>
<polyline points="204.8,326.3 213.6,324.8 223.4,327 230,329.8 235.6,326.3 241,317.9 246.4,315 251.7,311.2 257.4,312.2 263.3,315.5 280.2,321.6 302.7,320.5 319.6,320.8" fill="none" stroke="#40658f" stroke-width="1.05" stroke-linejoin="round"/>
<circle cx="204.8" cy="326.3" r="1.3" fill="#40658f"/>
<circle cx="213.6" cy="324.8" r="1.3" fill="#40658f"/>
<circle cx="223.4" cy="327" r="1.3" fill="#40658f"/>
<circle cx="230" cy="329.8" r="1.3" fill="#40658f"/>
<circle cx="235.6" cy="326.3" r="1.3" fill="#40658f"/>
<circle cx="241" cy="317.9" r="1.3" fill="#40658f"/>
<circle cx="246.4" cy="315" r="1.3" fill="#40658f"/>
<circle cx="251.7" cy="311.2" r="1.3" fill="#40658f"/>
<circle cx="257.4" cy="312.2" r="1.3" fill="#40658f"/>
<circle cx="263.3" cy="315.5" r="1.3" fill="#40658f"/>
<circle cx="280.2" cy="321.6" r="1.3" fill="#40658f"/>
<circle cx="302.7" cy="320.5" r="1.3" fill="#40658f"/>
<circle cx="319.6" cy="320.8" r="1.3" fill="#40658f"/>
<polyline points="204.8,329.8 213.6,325.4 223.4,330.1 230,332.6 235.6,332.6 241,322.9 246.4,292.6 251.7,283.8 257.4,298.7 263.3,298 280.2,321.6 302.7,319.8 319.6,322.5" fill="none" stroke="#512d5e" stroke-width="1.05" stroke-linejoin="round"/>
<circle cx="204.8" cy="329.8" r="1.3" fill="#2e1a3a"/>
<circle cx="213.6" cy="325.4" r="1.3" fill="#2e1a3a"/>
<circle cx="223.4" cy="330.1" r="1.3" fill="#2e1a3a"/>
<circle cx="230" cy="332.6" r="1.3" fill="#2e1a3a"/>
<circle cx="235.6" cy="332.6" r="1.3" fill="#2e1a3a"/>
<circle cx="241" cy="322.9" r="1.3" fill="#2e1a3a"/>
<circle cx="246.4" cy="292.6" r="1.3" fill="#2e1a3a"/>
<circle cx="251.7" cy="283.8" r="1.3" fill="#2e1a3a"/>
<circle cx="257.4" cy="298.7" r="1.3" fill="#2e1a3a"/>
<circle cx="263.3" cy="298" r="1.3" fill="#2e1a3a"/>
<circle cx="280.2" cy="321.6" r="1.3" fill="#2e1a3a"/>
<circle cx="302.7" cy="319.8" r="1.3" fill="#2e1a3a"/>
<circle cx="319.6" cy="322.5" r="1.3" fill="#2e1a3a"/>
<rect x="219" y="271.3" width="3.9" height="67.2" fill="#fff"/>
<line x1="202" y1="271.3" x2="202" y2="335" stroke="#555" stroke-width="1.8"/>
<line x1="198.7" y1="334.5" x2="202" y2="334.5" stroke="#3a3a3a" stroke-width="0.9"/>
<text x="197.2" y="336.4" font-size="5.4" text-anchor="end" font-weight="normal" fill="#444" stroke="#444" stroke-width="0.22">0</text>
<line x1="198.7" y1="319.75" x2="202" y2="319.75" stroke="#3a3a3a" stroke-width="0.9"/>
<text x="197.2" y="321.65" font-size="5.4" text-anchor="end" font-weight="normal" fill="#444" stroke="#444" stroke-width="0.22">2</text>
<line x1="198.7" y1="305" x2="202" y2="305" stroke="#3a3a3a" stroke-width="0.9"/>
<text x="197.2" y="306.9" font-size="5.4" text-anchor="end" font-weight="normal" fill="#444" stroke="#444" stroke-width="0.22">4</text>
<line x1="198.7" y1="290.25" x2="202" y2="290.25" stroke="#3a3a3a" stroke-width="0.9"/>
<text x="197.2" y="292.15" font-size="5.4" text-anchor="end" font-weight="normal" fill="#444" stroke="#444" stroke-width="0.22">6</text>
<line x1="198.7" y1="275.5" x2="202" y2="275.5" stroke="#3a3a3a" stroke-width="0.9"/>
<text x="197.2" y="277.4" font-size="5.4" text-anchor="end" font-weight="normal" fill="#444" stroke="#444" stroke-width="0.22">8</text>
<line x1="199" y1="334.5" x2="218.8" y2="334.5" stroke="#222" stroke-width="1.2"/>
<line x1="223.1" y1="334.5" x2="322" y2="334.5" stroke="#222" stroke-width="1.2"/>
<line x1="218.8" y1="333.3" x2="218.8" y2="335.7" stroke="#3a3a3a" stroke-width="0.8"/>
<line x1="223.1" y1="333.3" x2="223.1" y2="335.7" stroke="#3a3a3a" stroke-width="0.8"/>
<line x1="204.8" y1="334.5" x2="204.8" y2="337.3" stroke="#3a3a3a" stroke-width="0.9"/>
<text x="204.8" y="344" font-size="5.3" text-anchor="middle" font-weight="normal" fill="#444" stroke="#444" stroke-width="0.22">&#8722;5</text>
<line x1="213.7" y1="334.5" x2="213.7" y2="337.3" stroke="#3a3a3a" stroke-width="0.9"/>
<text x="213.7" y="344" font-size="5.3" text-anchor="middle" font-weight="normal" fill="#444" stroke="#444" stroke-width="0.22">&#8722;2</text>
<line x1="229.8" y1="334.5" x2="229.8" y2="337.3" stroke="#3a3a3a" stroke-width="0.9"/>
<text x="229.8" y="344" font-size="5.3" text-anchor="middle" font-weight="normal" fill="#444" stroke="#444" stroke-width="0.22">1</text>
<line x1="235.39" y1="334.5" x2="235.39" y2="337.3" stroke="#3a3a3a" stroke-width="0.9"/>
<text x="235.39" y="344" font-size="5.3" text-anchor="middle" font-weight="normal" fill="#444" stroke="#444" stroke-width="0.22">2</text>
<line x1="240.98" y1="334.5" x2="240.98" y2="337.3" stroke="#3a3a3a" stroke-width="0.9"/>
<text x="240.98" y="344" font-size="5.3" text-anchor="middle" font-weight="normal" fill="#444" stroke="#444" stroke-width="0.22">3</text>
<line x1="246.57" y1="334.5" x2="246.57" y2="337.3" stroke="#3a3a3a" stroke-width="0.9"/>
<text x="246.57" y="344" font-size="5.3" text-anchor="middle" font-weight="normal" fill="#444" stroke="#444" stroke-width="0.22">4</text>
<line x1="252.16" y1="334.5" x2="252.16" y2="337.3" stroke="#3a3a3a" stroke-width="0.9"/>
<text x="252.16" y="344" font-size="5.3" text-anchor="middle" font-weight="normal" fill="#444" stroke="#444" stroke-width="0.22">5</text>
<line x1="257.75" y1="334.5" x2="257.75" y2="337.3" stroke="#3a3a3a" stroke-width="0.9"/>
<text x="257.75" y="344" font-size="5.3" text-anchor="middle" font-weight="normal" fill="#444" stroke="#444" stroke-width="0.22">6</text>
<line x1="263.34" y1="334.5" x2="263.34" y2="337.3" stroke="#3a3a3a" stroke-width="0.9"/>
<text x="263.34" y="344" font-size="5.3" text-anchor="middle" font-weight="normal" fill="#444" stroke="#444" stroke-width="0.22">7</text>
<line x1="280.11" y1="334.5" x2="280.11" y2="337.3" stroke="#3a3a3a" stroke-width="0.9"/>
<text x="280.11" y="344" font-size="5.3" text-anchor="middle" font-weight="normal" fill="#444" stroke="#444" stroke-width="0.22">10</text>
<line x1="302.47" y1="334.5" x2="302.47" y2="337.3" stroke="#3a3a3a" stroke-width="0.9"/>
<text x="302.47" y="344" font-size="5.3" text-anchor="middle" font-weight="normal" fill="#444" stroke="#444" stroke-width="0.22">14</text>
<line x1="319.24" y1="334.5" x2="319.24" y2="337.3" stroke="#3a3a3a" stroke-width="0.9"/>
<text x="319.24" y="344" font-size="5.3" text-anchor="middle" font-weight="normal" fill="#444" stroke="#444" stroke-width="0.22">17</text>
<text x="262.7" y="353.5" font-size="7.5" text-anchor="middle" font-weight="bold" fill="#222" textLength="44.5" lengthAdjust="spacingAndGlyphs">Days after infusion</text>
<text transform="translate(186.2,303.5) rotate(-90)" x="0" y="0" font-size="7" text-anchor="middle" font-weight="bold" fill="#222" textLength="63.5" lengthAdjust="spacingAndGlyphs" dominant-baseline="central">Absolute number (10<tspan font-size="3.6" dy="-2">3</tspan><tspan dy="2">/&#956;L)</tspan></text>
<polyline points="366.8,323.5 375.9,316 385.7,317.5 392,318.5 397.6,321 403.4,319.7 409.3,319.5 415,317.5 420.7,321 426.4,320.8 444,314.8 466.4,319.8 483.5,313.8" fill="none" stroke="#c8283a" stroke-width="1.05" stroke-linejoin="round"/>
<circle cx="366.8" cy="323.5" r="1.3" fill="#c8283a"/>
<circle cx="375.9" cy="316" r="1.3" fill="#c8283a"/>
<circle cx="385.7" cy="317.5" r="1.3" fill="#c8283a"/>
<circle cx="392" cy="318.5" r="1.3" fill="#c8283a"/>
<circle cx="397.6" cy="321" r="1.3" fill="#c8283a"/>
<circle cx="403.4" cy="319.7" r="1.3" fill="#c8283a"/>
<circle cx="409.3" cy="319.5" r="1.3" fill="#c8283a"/>
<circle cx="415" cy="317.5" r="1.3" fill="#c8283a"/>
<circle cx="420.7" cy="321" r="1.3" fill="#c8283a"/>
<circle cx="426.4" cy="320.8" r="1.3" fill="#c8283a"/>
<circle cx="444" cy="314.8" r="1.3" fill="#c8283a"/>
<circle cx="466.4" cy="319.8" r="1.3" fill="#c8283a"/>
<circle cx="483.5" cy="313.8" r="1.3" fill="#c8283a"/>
<polyline points="366.8,326.7 375.9,321.6 385.7,322.5 392,322.5 397.6,321.6 403.4,321 409.3,321 415,320.8 420.7,322.3 426.4,324.5 444,323.9 466.4,322.9 483.5,321.6" fill="none" stroke="#4cab4c" stroke-width="1.05" stroke-linejoin="round"/>
<circle cx="366.8" cy="326.7" r="1.3" fill="#4cab4c"/>
<circle cx="375.9" cy="321.6" r="1.3" fill="#4cab4c"/>
<circle cx="385.7" cy="322.5" r="1.3" fill="#4cab4c"/>
<circle cx="392" cy="322.5" r="1.3" fill="#4cab4c"/>
<circle cx="397.6" cy="321.6" r="1.3" fill="#4cab4c"/>
<circle cx="403.4" cy="321" r="1.3" fill="#4cab4c"/>
<circle cx="409.3" cy="321" r="1.3" fill="#4cab4c"/>
<circle cx="415" cy="320.8" r="1.3" fill="#4cab4c"/>
<circle cx="420.7" cy="322.3" r="1.3" fill="#4cab4c"/>
<circle cx="426.4" cy="324.5" r="1.3" fill="#4cab4c"/>
<circle cx="444" cy="323.9" r="1.3" fill="#4cab4c"/>
<circle cx="466.4" cy="322.9" r="1.3" fill="#4cab4c"/>
<circle cx="483.5" cy="321.6" r="1.3" fill="#4cab4c"/>
<polyline points="366.8,325.4 375.9,321 385.7,323.5 392,326 397.6,319.1 403.4,312.4 409.3,315.3 415,314.4 420.7,315 426.4,318.9 444,323.2 466.4,319.8 483.5,316.7" fill="none" stroke="#40658f" stroke-width="1.05" stroke-linejoin="round"/>
<circle cx="366.8" cy="325.4" r="1.3" fill="#40658f"/>
<circle cx="375.9" cy="321" r="1.3" fill="#40658f"/>
<circle cx="385.7" cy="323.5" r="1.3" fill="#40658f"/>
<circle cx="392" cy="326" r="1.3" fill="#40658f"/>
<circle cx="397.6" cy="319.1" r="1.3" fill="#40658f"/>
<circle cx="403.4" cy="312.4" r="1.3" fill="#40658f"/>
<circle cx="409.3" cy="315.3" r="1.3" fill="#40658f"/>
<circle cx="415" cy="314.4" r="1.3" fill="#40658f"/>
<circle cx="420.7" cy="315" r="1.3" fill="#40658f"/>
<circle cx="426.4" cy="318.9" r="1.3" fill="#40658f"/>
<circle cx="444" cy="323.2" r="1.3" fill="#40658f"/>
<circle cx="466.4" cy="319.8" r="1.3" fill="#40658f"/>
<circle cx="483.5" cy="316.7" r="1.3" fill="#40658f"/>
<polyline points="366.8,320 375.9,320.4 385.7,325.4 392,329.6 397.6,328 403.4,318.2 409.3,301.1 415,304 420.7,307.4 426.4,301.7 444,315.1 466.4,314.4 483.5,317.8" fill="none" stroke="#512d5e" stroke-width="1.05" stroke-linejoin="round"/>
<circle cx="366.8" cy="320" r="1.3" fill="#2e1a3a"/>
<circle cx="375.9" cy="320.4" r="1.3" fill="#2e1a3a"/>
<circle cx="385.7" cy="325.4" r="1.3" fill="#2e1a3a"/>
<circle cx="392" cy="329.6" r="1.3" fill="#2e1a3a"/>
<circle cx="397.6" cy="328" r="1.3" fill="#2e1a3a"/>
<circle cx="403.4" cy="318.2" r="1.3" fill="#2e1a3a"/>
<circle cx="409.3" cy="301.1" r="1.3" fill="#2e1a3a"/>
<circle cx="415" cy="304" r="1.3" fill="#2e1a3a"/>
<circle cx="420.7" cy="307.4" r="1.3" fill="#2e1a3a"/>
<circle cx="426.4" cy="301.7" r="1.3" fill="#2e1a3a"/>
<circle cx="444" cy="315.1" r="1.3" fill="#2e1a3a"/>
<circle cx="466.4" cy="314.4" r="1.3" fill="#2e1a3a"/>
<circle cx="483.5" cy="317.8" r="1.3" fill="#2e1a3a"/>
<rect x="381.7" y="271.3" width="3.7" height="67.2" fill="#fff"/>
<line x1="364" y1="271.3" x2="364" y2="335" stroke="#555" stroke-width="1.8"/>
<line x1="360.7" y1="334.5" x2="364" y2="334.5" stroke="#3a3a3a" stroke-width="0.9"/>
<text x="359.2" y="336.4" font-size="5.4" text-anchor="end" font-weight="normal" fill="#444" stroke="#444" stroke-width="0.22">0</text>
<line x1="360.7" y1="319.5" x2="364" y2="319.5" stroke="#3a3a3a" stroke-width="0.9"/>
<text x="359.2" y="321.4" font-size="5.4" text-anchor="end" font-weight="normal" fill="#444" stroke="#444" stroke-width="0.22">2</text>
<line x1="360.7" y1="304.5" x2="364" y2="304.5" stroke="#3a3a3a" stroke-width="0.9"/>
<text x="359.2" y="306.4" font-size="5.4" text-anchor="end" font-weight="normal" fill="#444" stroke="#444" stroke-width="0.22">4</text>
<line x1="360.7" y1="289.5" x2="364" y2="289.5" stroke="#3a3a3a" stroke-width="0.9"/>
<text x="359.2" y="291.4" font-size="5.4" text-anchor="end" font-weight="normal" fill="#444" stroke="#444" stroke-width="0.22">6</text>
<line x1="360.7" y1="274.5" x2="364" y2="274.5" stroke="#3a3a3a" stroke-width="0.9"/>
<text x="359.2" y="276.4" font-size="5.4" text-anchor="end" font-weight="normal" fill="#444" stroke="#444" stroke-width="0.22">8</text>
<line x1="361" y1="334.5" x2="381.5" y2="334.5" stroke="#222" stroke-width="1.2"/>
<line x1="385.6" y1="334.5" x2="486.6" y2="334.5" stroke="#222" stroke-width="1.2"/>
<line x1="381.5" y1="333.3" x2="381.5" y2="335.7" stroke="#3a3a3a" stroke-width="0.8"/>
<line x1="385.6" y1="333.3" x2="385.6" y2="335.7" stroke="#3a3a3a" stroke-width="0.8"/>
<line x1="366.9" y1="334.5" x2="366.9" y2="337.3" stroke="#3a3a3a" stroke-width="0.9"/>
<text x="366.9" y="344" font-size="5.3" text-anchor="middle" font-weight="normal" fill="#444" stroke="#444" stroke-width="0.22">&#8722;5</text>
<line x1="376" y1="334.5" x2="376" y2="337.3" stroke="#3a3a3a" stroke-width="0.9"/>
<text x="376" y="344" font-size="5.3" text-anchor="middle" font-weight="normal" fill="#444" stroke="#444" stroke-width="0.22">&#8722;2</text>
<line x1="392.25" y1="334.5" x2="392.25" y2="337.3" stroke="#3a3a3a" stroke-width="0.9"/>
<text x="392.25" y="344" font-size="5.3" text-anchor="middle" font-weight="normal" fill="#444" stroke="#444" stroke-width="0.22">1</text>
<line x1="397.95" y1="334.5" x2="397.95" y2="337.3" stroke="#3a3a3a" stroke-width="0.9"/>
<text x="397.95" y="344" font-size="5.3" text-anchor="middle" font-weight="normal" fill="#444" stroke="#444" stroke-width="0.22">2</text>
<line x1="403.65" y1="334.5" x2="403.65" y2="337.3" stroke="#3a3a3a" stroke-width="0.9"/>
<text x="403.65" y="344" font-size="5.3" text-anchor="middle" font-weight="normal" fill="#444" stroke="#444" stroke-width="0.22">3</text>
<line x1="409.35" y1="334.5" x2="409.35" y2="337.3" stroke="#3a3a3a" stroke-width="0.9"/>
<text x="409.35" y="344" font-size="5.3" text-anchor="middle" font-weight="normal" fill="#444" stroke="#444" stroke-width="0.22">4</text>
<line x1="415.05" y1="334.5" x2="415.05" y2="337.3" stroke="#3a3a3a" stroke-width="0.9"/>
<text x="415.05" y="344" font-size="5.3" text-anchor="middle" font-weight="normal" fill="#444" stroke="#444" stroke-width="0.22">5</text>
<line x1="420.75" y1="334.5" x2="420.75" y2="337.3" stroke="#3a3a3a" stroke-width="0.9"/>
<text x="420.75" y="344" font-size="5.3" text-anchor="middle" font-weight="normal" fill="#444" stroke="#444" stroke-width="0.22">6</text>
<line x1="426.45" y1="334.5" x2="426.45" y2="337.3" stroke="#3a3a3a" stroke-width="0.9"/>
<text x="426.45" y="344" font-size="5.3" text-anchor="middle" font-weight="normal" fill="#444" stroke="#444" stroke-width="0.22">7</text>
<line x1="443.55" y1="334.5" x2="443.55" y2="337.3" stroke="#3a3a3a" stroke-width="0.9"/>
<text x="443.55" y="344" font-size="5.3" text-anchor="middle" font-weight="normal" fill="#444" stroke="#444" stroke-width="0.22">10</text>
<line x1="466.35" y1="334.5" x2="466.35" y2="337.3" stroke="#3a3a3a" stroke-width="0.9"/>
<text x="466.35" y="344" font-size="5.3" text-anchor="middle" font-weight="normal" fill="#444" stroke="#444" stroke-width="0.22">14</text>
<line x1="483.45" y1="334.5" x2="483.45" y2="337.3" stroke="#3a3a3a" stroke-width="0.9"/>
<text x="483.45" y="344" font-size="5.3" text-anchor="middle" font-weight="normal" fill="#444" stroke="#444" stroke-width="0.22">17</text>
<text x="424.7" y="353.5" font-size="7.5" text-anchor="middle" font-weight="bold" fill="#222" textLength="44.5" lengthAdjust="spacingAndGlyphs">Days after infusion</text>
<text transform="translate(348.2,303.5) rotate(-90)" x="0" y="0" font-size="7" text-anchor="middle" font-weight="bold" fill="#222" textLength="63.5" lengthAdjust="spacingAndGlyphs" dominant-baseline="central">Absolute number (10<tspan font-size="3.6" dy="-2">3</tspan><tspan dy="2">/&#956;L)</tspan></text>
<polyline points="39.8,432.5 48.4,433.2 58.1,431.8 72,430.3 85.6,432.5 99.3,432.9 113,430.8 126.8,432.8 140.5,433 154.2,432.8" fill="none" stroke="#c8283a" stroke-width="1.05" stroke-linejoin="round"/>
<circle cx="39.8" cy="432.5" r="1.15" fill="#c8283a"/>
<circle cx="48.4" cy="433.2" r="1.15" fill="#c8283a"/>
<circle cx="58.1" cy="431.8" r="1.15" fill="#c8283a"/>
<circle cx="72" cy="430.3" r="1.15" fill="#c8283a"/>
<circle cx="85.6" cy="432.5" r="1.15" fill="#c8283a"/>
<circle cx="99.3" cy="432.9" r="1.15" fill="#c8283a"/>
<circle cx="113" cy="430.8" r="1.15" fill="#c8283a"/>
<circle cx="126.8" cy="432.8" r="1.15" fill="#c8283a"/>
<circle cx="140.5" cy="433" r="1.15" fill="#c8283a"/>
<circle cx="154.2" cy="432.8" r="1.15" fill="#c8283a"/>
<polyline points="39.8,431.8 48.4,433 58.1,427.8 72,419.2 85.6,430 99.3,431.8 113,432.5 126.8,432.8 140.5,433 154.2,431.6" fill="none" stroke="#4cab4c" stroke-width="1.05" stroke-linejoin="round"/>
<circle cx="39.8" cy="431.8" r="1.15" fill="#4cab4c"/>
<circle cx="48.4" cy="433" r="1.15" fill="#4cab4c"/>
<circle cx="58.1" cy="427.8" r="1.15" fill="#4cab4c"/>
<circle cx="72" cy="419.2" r="1.15" fill="#4cab4c"/>
<circle cx="85.6" cy="430" r="1.15" fill="#4cab4c"/>
<circle cx="99.3" cy="431.8" r="1.15" fill="#4cab4c"/>
<circle cx="113" cy="432.5" r="1.15" fill="#4cab4c"/>
<circle cx="126.8" cy="432.8" r="1.15" fill="#4cab4c"/>
<circle cx="140.5" cy="433" r="1.15" fill="#4cab4c"/>
<circle cx="154.2" cy="431.6" r="1.15" fill="#4cab4c"/>
<polyline points="39.8,431.6 48.4,433.1 58.1,418.6 72,396.3 85.6,382.9 99.3,410.1 113,432.5 126.8,432.8 140.5,433.1 154.2,433.1" fill="none" stroke="#40658f" stroke-width="1.05" stroke-linejoin="round"/>
<circle cx="39.8" cy="431.6" r="1.15" fill="#40658f"/>
<circle cx="48.4" cy="433.1" r="1.15" fill="#40658f"/>
<circle cx="58.1" cy="418.6" r="1.15" fill="#40658f"/>
<circle cx="72" cy="396.3" r="1.15" fill="#40658f"/>
<circle cx="85.6" cy="382.9" r="1.15" fill="#40658f"/>
<circle cx="99.3" cy="410.1" r="1.15" fill="#40658f"/>
<circle cx="113" cy="432.5" r="1.15" fill="#40658f"/>
<circle cx="126.8" cy="432.8" r="1.15" fill="#40658f"/>
<circle cx="140.5" cy="433.1" r="1.15" fill="#40658f"/>
<circle cx="154.2" cy="433.1" r="1.15" fill="#40658f"/>
<polyline points="39.8,432 48.4,433.1 58.1,421.7 72,405.3 85.6,396.3 99.3,377.8 113,412.7 126.8,432.5 140.5,433.1 154.2,432.5" fill="none" stroke="#512d5e" stroke-width="1.05" stroke-linejoin="round"/>
<circle cx="39.8" cy="432" r="1.15" fill="#2e1a3a"/>
<circle cx="48.4" cy="433.1" r="1.15" fill="#2e1a3a"/>
<circle cx="58.1" cy="421.7" r="1.15" fill="#2e1a3a"/>
<circle cx="72" cy="405.3" r="1.15" fill="#2e1a3a"/>
<circle cx="85.6" cy="396.3" r="1.15" fill="#2e1a3a"/>
<circle cx="99.3" cy="377.8" r="1.15" fill="#2e1a3a"/>
<circle cx="113" cy="412.7" r="1.15" fill="#2e1a3a"/>
<circle cx="126.8" cy="432.5" r="1.15" fill="#2e1a3a"/>
<circle cx="140.5" cy="433.1" r="1.15" fill="#2e1a3a"/>
<circle cx="154.2" cy="432.5" r="1.15" fill="#2e1a3a"/>
<rect x="54" y="372.2" width="3.9" height="65.3" fill="#fff"/>
<line x1="37" y1="372.2" x2="37" y2="434" stroke="#555" stroke-width="1.8"/>
<line x1="33.7" y1="433.5" x2="37" y2="433.5" stroke="#3a3a3a" stroke-width="0.9"/>
<text x="32.2" y="435.4" font-size="5.4" text-anchor="end" font-weight="normal" fill="#444" stroke="#444" stroke-width="0.22">0</text>
<line x1="33.7" y1="421.84" x2="37" y2="421.84" stroke="#3a3a3a" stroke-width="0.9"/>
<text x="32.2" y="423.74" font-size="5.4" text-anchor="end" font-weight="normal" fill="#444" stroke="#444" stroke-width="0.22">20</text>
<line x1="33.7" y1="410.18" x2="37" y2="410.18" stroke="#3a3a3a" stroke-width="0.9"/>
<text x="32.2" y="412.08" font-size="5.4" text-anchor="end" font-weight="normal" fill="#444" stroke="#444" stroke-width="0.22">40</text>
<line x1="33.7" y1="398.52" x2="37" y2="398.52" stroke="#3a3a3a" stroke-width="0.9"/>
<text x="32.2" y="400.42" font-size="5.4" text-anchor="end" font-weight="normal" fill="#444" stroke="#444" stroke-width="0.22">60</text>
<line x1="33.7" y1="386.86" x2="37" y2="386.86" stroke="#3a3a3a" stroke-width="0.9"/>
<text x="32.2" y="388.76" font-size="5.4" text-anchor="end" font-weight="normal" fill="#444" stroke="#444" stroke-width="0.22">80</text>
<line x1="33.7" y1="375.2" x2="37" y2="375.2" stroke="#3a3a3a" stroke-width="0.9"/>
<text x="32.2" y="377.1" font-size="5.4" text-anchor="end" font-weight="normal" fill="#444" stroke="#444" stroke-width="0.22">100</text>
<line x1="34" y1="433.5" x2="53.8" y2="433.5" stroke="#222" stroke-width="1.2"/>
<line x1="58.1" y1="433.5" x2="157.1" y2="433.5" stroke="#222" stroke-width="1.2"/>
<line x1="53.8" y1="432.3" x2="53.8" y2="434.7" stroke="#3a3a3a" stroke-width="0.8"/>
<line x1="58.1" y1="432.3" x2="58.1" y2="434.7" stroke="#3a3a3a" stroke-width="0.8"/>
<line x1="39.8" y1="433.5" x2="39.8" y2="436.3" stroke="#3a3a3a" stroke-width="0.9"/>
<text x="39.8" y="443.3" font-size="5.3" text-anchor="middle" font-weight="normal" fill="#444" stroke="#444" stroke-width="0.22">&#8722;5</text>
<line x1="48.4" y1="433.5" x2="48.4" y2="436.3" stroke="#3a3a3a" stroke-width="0.9"/>
<text x="48.4" y="443.3" font-size="5.3" text-anchor="middle" font-weight="normal" fill="#444" stroke="#444" stroke-width="0.22">&#8722;2</text>
<line x1="72" y1="433.5" x2="72" y2="436.3" stroke="#3a3a3a" stroke-width="0.9"/>
<text x="72" y="443.3" font-size="5.3" text-anchor="middle" font-weight="normal" fill="#444" stroke="#444" stroke-width="0.22">1</text>
<line x1="85.7" y1="433.5" x2="85.7" y2="436.3" stroke="#3a3a3a" stroke-width="0.9"/>
<text x="85.7" y="443.3" font-size="5.3" text-anchor="middle" font-weight="normal" fill="#444" stroke="#444" stroke-width="0.22">2</text>
<line x1="99.4" y1="433.5" x2="99.4" y2="436.3" stroke="#3a3a3a" stroke-width="0.9"/>
<text x="99.4" y="443.3" font-size="5.3" text-anchor="middle" font-weight="normal" fill="#444" stroke="#444" stroke-width="0.22">3</text>
<line x1="113.1" y1="433.5" x2="113.1" y2="436.3" stroke="#3a3a3a" stroke-width="0.9"/>
<text x="113.1" y="443.3" font-size="5.3" text-anchor="middle" font-weight="normal" fill="#444" stroke="#444" stroke-width="0.22">4</text>
<line x1="126.8" y1="433.5" x2="126.8" y2="436.3" stroke="#3a3a3a" stroke-width="0.9"/>
<text x="126.8" y="443.3" font-size="5.3" text-anchor="middle" font-weight="normal" fill="#444" stroke="#444" stroke-width="0.22">5</text>
<line x1="140.5" y1="433.5" x2="140.5" y2="436.3" stroke="#3a3a3a" stroke-width="0.9"/>
<text x="140.5" y="443.3" font-size="5.3" text-anchor="middle" font-weight="normal" fill="#444" stroke="#444" stroke-width="0.22">6</text>
<line x1="154.2" y1="433.5" x2="154.2" y2="436.3" stroke="#3a3a3a" stroke-width="0.9"/>
<text x="154.2" y="443.3" font-size="5.3" text-anchor="middle" font-weight="normal" fill="#444" stroke="#444" stroke-width="0.22">7</text>
<text x="97.7" y="453.2" font-size="7.5" text-anchor="middle" font-weight="bold" fill="#222" textLength="44.5" lengthAdjust="spacingAndGlyphs">Days after infusion</text>
<text transform="translate(16.2,402.8) rotate(-90)" x="0" y="0" font-size="7" text-anchor="middle" font-weight="bold" fill="#222" textLength="28.4" lengthAdjust="spacingAndGlyphs" dominant-baseline="central">pSTAT5 (%)</text>
<polyline points="204.8,432.5 213.6,433 223.4,430.6 236.9,427.5 250.6,432.5 264.3,432.6 278,431 291.75,432.8 305.5,433 319.25,431.5" fill="none" stroke="#c8283a" stroke-width="1.05" stroke-linejoin="round"/>
<circle cx="204.8" cy="432.5" r="1.15" fill="#c8283a"/>
<circle cx="213.6" cy="433" r="1.15" fill="#c8283a"/>
<circle cx="223.4" cy="430.6" r="1.15" fill="#c8283a"/>
<circle cx="236.9" cy="427.5" r="1.15" fill="#c8283a"/>
<circle cx="250.6" cy="432.5" r="1.15" fill="#c8283a"/>
<circle cx="264.3" cy="432.6" r="1.15" fill="#c8283a"/>
<circle cx="278" cy="431" r="1.15" fill="#c8283a"/>
<circle cx="291.75" cy="432.8" r="1.15" fill="#c8283a"/>
<circle cx="305.5" cy="433" r="1.15" fill="#c8283a"/>
<circle cx="319.25" cy="431.5" r="1.15" fill="#c8283a"/>
<polyline points="204.8,432.8 213.6,433 223.4,431.2 236.9,429 250.6,431.8 264.3,432.5 278,432.8 291.75,432.8 305.5,432.5 319.25,429" fill="none" stroke="#4cab4c" stroke-width="1.05" stroke-linejoin="round"/>
<circle cx="204.8" cy="432.8" r="1.15" fill="#4cab4c"/>
<circle cx="213.6" cy="433" r="1.15" fill="#4cab4c"/>
<circle cx="223.4" cy="431.2" r="1.15" fill="#4cab4c"/>
<circle cx="236.9" cy="429" r="1.15" fill="#4cab4c"/>
<circle cx="250.6" cy="431.8" r="1.15" fill="#4cab4c"/>
<circle cx="264.3" cy="432.5" r="1.15" fill="#4cab4c"/>
<circle cx="278" cy="432.8" r="1.15" fill="#4cab4c"/>
<circle cx="291.75" cy="432.8" r="1.15" fill="#4cab4c"/>
<circle cx="305.5" cy="432.5" r="1.15" fill="#4cab4c"/>
<circle cx="319.25" cy="429" r="1.15" fill="#4cab4c"/>
<polyline points="204.8,432 213.6,433 223.4,432.5 236.9,431.8 250.6,423.4 264.3,428.5 278,432.5 291.75,432.8 305.5,433 319.25,433" fill="none" stroke="#40658f" stroke-width="1.05" stroke-linejoin="round"/>
<circle cx="204.8" cy="432" r="1.15" fill="#40658f"/>
<circle cx="213.6" cy="433" r="1.15" fill="#40658f"/>
<circle cx="223.4" cy="432.5" r="1.15" fill="#40658f"/>
<circle cx="236.9" cy="431.8" r="1.15" fill="#40658f"/>
<circle cx="250.6" cy="423.4" r="1.15" fill="#40658f"/>
<circle cx="264.3" cy="428.5" r="1.15" fill="#40658f"/>
<circle cx="278" cy="432.5" r="1.15" fill="#40658f"/>
<circle cx="291.75" cy="432.8" r="1.15" fill="#40658f"/>
<circle cx="305.5" cy="433" r="1.15" fill="#40658f"/>
<circle cx="319.25" cy="433" r="1.15" fill="#40658f"/>
<polyline points="204.8,431.5 213.6,433 223.4,430.5 236.9,425.9 250.6,432.3 264.3,420.6 278,417.5 291.75,431.5 305.5,432.3 319.25,432.8" fill="none" stroke="#512d5e" stroke-width="1.05" stroke-linejoin="round"/>
<circle cx="204.8" cy="431.5" r="1.15" fill="#2e1a3a"/>
<circle cx="213.6" cy="433" r="1.15" fill="#2e1a3a"/>
<circle cx="223.4" cy="430.5" r="1.15" fill="#2e1a3a"/>
<circle cx="236.9" cy="425.9" r="1.15" fill="#2e1a3a"/>
<circle cx="250.6" cy="432.3" r="1.15" fill="#2e1a3a"/>
<circle cx="264.3" cy="420.6" r="1.15" fill="#2e1a3a"/>
<circle cx="278" cy="417.5" r="1.15" fill="#2e1a3a"/>
<circle cx="291.75" cy="431.5" r="1.15" fill="#2e1a3a"/>
<circle cx="305.5" cy="432.3" r="1.15" fill="#2e1a3a"/>
<circle cx="319.25" cy="432.8" r="1.15" fill="#2e1a3a"/>
<rect x="219.1" y="372.2" width="4.1" height="65.3" fill="#fff"/>
<line x1="202" y1="372.2" x2="202" y2="434" stroke="#555" stroke-width="1.8"/>
<line x1="198.7" y1="433.5" x2="202" y2="433.5" stroke="#3a3a3a" stroke-width="0.9"/>
<text x="197.2" y="435.4" font-size="5.4" text-anchor="end" font-weight="normal" fill="#444" stroke="#444" stroke-width="0.22">0</text>
<line x1="198.7" y1="421.84" x2="202" y2="421.84" stroke="#3a3a3a" stroke-width="0.9"/>
<text x="197.2" y="423.74" font-size="5.4" text-anchor="end" font-weight="normal" fill="#444" stroke="#444" stroke-width="0.22">20</text>
<line x1="198.7" y1="410.18" x2="202" y2="410.18" stroke="#3a3a3a" stroke-width="0.9"/>
<text x="197.2" y="412.08" font-size="5.4" text-anchor="end" font-weight="normal" fill="#444" stroke="#444" stroke-width="0.22">40</text>
<line x1="198.7" y1="398.52" x2="202" y2="398.52" stroke="#3a3a3a" stroke-width="0.9"/>
<text x="197.2" y="400.42" font-size="5.4" text-anchor="end" font-weight="normal" fill="#444" stroke="#444" stroke-width="0.22">60</text>
<line x1="198.7" y1="386.86" x2="202" y2="386.86" stroke="#3a3a3a" stroke-width="0.9"/>
<text x="197.2" y="388.76" font-size="5.4" text-anchor="end" font-weight="normal" fill="#444" stroke="#444" stroke-width="0.22">80</text>
<line x1="198.7" y1="375.2" x2="202" y2="375.2" stroke="#3a3a3a" stroke-width="0.9"/>
<text x="197.2" y="377.1" font-size="5.4" text-anchor="end" font-weight="normal" fill="#444" stroke="#444" stroke-width="0.22">100</text>
<line x1="199" y1="433.5" x2="218.9" y2="433.5" stroke="#222" stroke-width="1.2"/>
<line x1="223.4" y1="433.5" x2="322.5" y2="433.5" stroke="#222" stroke-width="1.2"/>
<line x1="218.9" y1="432.3" x2="218.9" y2="434.7" stroke="#3a3a3a" stroke-width="0.8"/>
<line x1="223.4" y1="432.3" x2="223.4" y2="434.7" stroke="#3a3a3a" stroke-width="0.8"/>
<line x1="204.8" y1="433.5" x2="204.8" y2="436.3" stroke="#3a3a3a" stroke-width="0.9"/>
<text x="204.8" y="443.3" font-size="5.3" text-anchor="middle" font-weight="normal" fill="#444" stroke="#444" stroke-width="0.22">&#8722;5</text>
<line x1="213.6" y1="433.5" x2="213.6" y2="436.3" stroke="#3a3a3a" stroke-width="0.9"/>
<text x="213.6" y="443.3" font-size="5.3" text-anchor="middle" font-weight="normal" fill="#444" stroke="#444" stroke-width="0.22">&#8722;2</text>
<line x1="236.9" y1="433.5" x2="236.9" y2="436.3" stroke="#3a3a3a" stroke-width="0.9"/>
<text x="236.9" y="443.3" font-size="5.3" text-anchor="middle" font-weight="normal" fill="#444" stroke="#444" stroke-width="0.22">1</text>
<line x1="250.62" y1="433.5" x2="250.62" y2="436.3" stroke="#3a3a3a" stroke-width="0.9"/>
<text x="250.62" y="443.3" font-size="5.3" text-anchor="middle" font-weight="normal" fill="#444" stroke="#444" stroke-width="0.22">2</text>
<line x1="264.34" y1="433.5" x2="264.34" y2="436.3" stroke="#3a3a3a" stroke-width="0.9"/>
<text x="264.34" y="443.3" font-size="5.3" text-anchor="middle" font-weight="normal" fill="#444" stroke="#444" stroke-width="0.22">3</text>
<line x1="278.06" y1="433.5" x2="278.06" y2="436.3" stroke="#3a3a3a" stroke-width="0.9"/>
<text x="278.06" y="443.3" font-size="5.3" text-anchor="middle" font-weight="normal" fill="#444" stroke="#444" stroke-width="0.22">4</text>
<line x1="291.78" y1="433.5" x2="291.78" y2="436.3" stroke="#3a3a3a" stroke-width="0.9"/>
<text x="291.78" y="443.3" font-size="5.3" text-anchor="middle" font-weight="normal" fill="#444" stroke="#444" stroke-width="0.22">5</text>
<line x1="305.5" y1="433.5" x2="305.5" y2="436.3" stroke="#3a3a3a" stroke-width="0.9"/>
<text x="305.5" y="443.3" font-size="5.3" text-anchor="middle" font-weight="normal" fill="#444" stroke="#444" stroke-width="0.22">6</text>
<line x1="319.22" y1="433.5" x2="319.22" y2="436.3" stroke="#3a3a3a" stroke-width="0.9"/>
<text x="319.22" y="443.3" font-size="5.3" text-anchor="middle" font-weight="normal" fill="#444" stroke="#444" stroke-width="0.22">7</text>
<text x="262.7" y="453.2" font-size="7.5" text-anchor="middle" font-weight="bold" fill="#222" textLength="44.5" lengthAdjust="spacingAndGlyphs">Days after infusion</text>
<text transform="translate(181,402.8) rotate(-90)" x="0" y="0" font-size="7" text-anchor="middle" font-weight="bold" fill="#222" textLength="28.4" lengthAdjust="spacingAndGlyphs" dominant-baseline="central">pSTAT5 (%)</text>
<polyline points="366.75,433 375.5,433 385.1,432.8 398.9,432.8 412.6,431.5 426.5,432.8 440.25,433 453.75,433 467.5,432.8 481.25,432" fill="none" stroke="#c8283a" stroke-width="1.05" stroke-linejoin="round"/>
<circle cx="366.75" cy="433" r="1.15" fill="#c8283a"/>
<circle cx="375.5" cy="433" r="1.15" fill="#c8283a"/>
<circle cx="385.1" cy="432.8" r="1.15" fill="#c8283a"/>
<circle cx="398.9" cy="432.8" r="1.15" fill="#c8283a"/>
<circle cx="412.6" cy="431.5" r="1.15" fill="#c8283a"/>
<circle cx="426.5" cy="432.8" r="1.15" fill="#c8283a"/>
<circle cx="440.25" cy="433" r="1.15" fill="#c8283a"/>
<circle cx="453.75" cy="433" r="1.15" fill="#c8283a"/>
<circle cx="467.5" cy="432.8" r="1.15" fill="#c8283a"/>
<circle cx="481.25" cy="432" r="1.15" fill="#c8283a"/>
<polyline points="366.75,433 375.5,433 385.1,432.8 398.9,432.8 412.6,432.8 426.5,432.5 440.25,432.8 453.75,432.8 467.5,432.5 481.25,430.6" fill="none" stroke="#4cab4c" stroke-width="1.05" stroke-linejoin="round"/>
<circle cx="366.75" cy="433" r="1.15" fill="#4cab4c"/>
<circle cx="375.5" cy="433" r="1.15" fill="#4cab4c"/>
<circle cx="385.1" cy="432.8" r="1.15" fill="#4cab4c"/>
<circle cx="398.9" cy="432.8" r="1.15" fill="#4cab4c"/>
<circle cx="412.6" cy="432.8" r="1.15" fill="#4cab4c"/>
<circle cx="426.5" cy="432.5" r="1.15" fill="#4cab4c"/>
<circle cx="440.25" cy="432.8" r="1.15" fill="#4cab4c"/>
<circle cx="453.75" cy="432.8" r="1.15" fill="#4cab4c"/>
<circle cx="467.5" cy="432.5" r="1.15" fill="#4cab4c"/>
<circle cx="481.25" cy="430.6" r="1.15" fill="#4cab4c"/>
<polyline points="366.75,432.8 375.5,433 385.1,432.5 398.9,432.5 412.6,430.25 426.5,432.5 440.25,432.8 453.75,433 467.5,433 481.25,432.8" fill="none" stroke="#40658f" stroke-width="1.05" stroke-linejoin="round"/>
<circle cx="366.75" cy="432.8" r="1.15" fill="#40658f"/>
<circle cx="375.5" cy="433" r="1.15" fill="#40658f"/>
<circle cx="385.1" cy="432.5" r="1.15" fill="#40658f"/>
<circle cx="398.9" cy="432.5" r="1.15" fill="#40658f"/>
<circle cx="412.6" cy="430.25" r="1.15" fill="#40658f"/>
<circle cx="426.5" cy="432.5" r="1.15" fill="#40658f"/>
<circle cx="440.25" cy="432.8" r="1.15" fill="#40658f"/>
<circle cx="453.75" cy="433" r="1.15" fill="#40658f"/>
<circle cx="467.5" cy="433" r="1.15" fill="#40658f"/>
<circle cx="481.25" cy="432.8" r="1.15" fill="#40658f"/>
<polyline points="366.75,432.5 375.5,432.8 385.1,431.9 398.9,428.5 412.6,431.9 426.5,428.75 440.25,429.75 453.75,432.75 467.5,432.75 481.25,432.5" fill="none" stroke="#512d5e" stroke-width="1.05" stroke-linejoin="round"/>
<circle cx="366.75" cy="432.5" r="1.15" fill="#2e1a3a"/>
<circle cx="375.5" cy="432.8" r="1.15" fill="#2e1a3a"/>
<circle cx="385.1" cy="431.9" r="1.15" fill="#2e1a3a"/>
<circle cx="398.9" cy="428.5" r="1.15" fill="#2e1a3a"/>
<circle cx="412.6" cy="431.9" r="1.15" fill="#2e1a3a"/>
<circle cx="426.5" cy="428.75" r="1.15" fill="#2e1a3a"/>
<circle cx="440.25" cy="429.75" r="1.15" fill="#2e1a3a"/>
<circle cx="453.75" cy="432.75" r="1.15" fill="#2e1a3a"/>
<circle cx="467.5" cy="432.75" r="1.15" fill="#2e1a3a"/>
<circle cx="481.25" cy="432.5" r="1.15" fill="#2e1a3a"/>
<rect x="381" y="372.2" width="3.9" height="65.3" fill="#fff"/>
<line x1="364" y1="372.2" x2="364" y2="434" stroke="#555" stroke-width="1.8"/>
<line x1="360.7" y1="433.5" x2="364" y2="433.5" stroke="#3a3a3a" stroke-width="0.9"/>
<text x="359.2" y="435.4" font-size="5.4" text-anchor="end" font-weight="normal" fill="#444" stroke="#444" stroke-width="0.22">0</text>
<line x1="360.7" y1="421.84" x2="364" y2="421.84" stroke="#3a3a3a" stroke-width="0.9"/>
<text x="359.2" y="423.74" font-size="5.4" text-anchor="end" font-weight="normal" fill="#444" stroke="#444" stroke-width="0.22">20</text>
<line x1="360.7" y1="410.18" x2="364" y2="410.18" stroke="#3a3a3a" stroke-width="0.9"/>
<text x="359.2" y="412.08" font-size="5.4" text-anchor="end" font-weight="normal" fill="#444" stroke="#444" stroke-width="0.22">40</text>
<line x1="360.7" y1="398.52" x2="364" y2="398.52" stroke="#3a3a3a" stroke-width="0.9"/>
<text x="359.2" y="400.42" font-size="5.4" text-anchor="end" font-weight="normal" fill="#444" stroke="#444" stroke-width="0.22">60</text>
<line x1="360.7" y1="386.86" x2="364" y2="386.86" stroke="#3a3a3a" stroke-width="0.9"/>
<text x="359.2" y="388.76" font-size="5.4" text-anchor="end" font-weight="normal" fill="#444" stroke="#444" stroke-width="0.22">80</text>
<line x1="360.7" y1="375.2" x2="364" y2="375.2" stroke="#3a3a3a" stroke-width="0.9"/>
<text x="359.2" y="377.1" font-size="5.4" text-anchor="end" font-weight="normal" fill="#444" stroke="#444" stroke-width="0.22">100</text>
<line x1="361" y1="433.5" x2="380.8" y2="433.5" stroke="#222" stroke-width="1.2"/>
<line x1="385.1" y1="433.5" x2="484.5" y2="433.5" stroke="#222" stroke-width="1.2"/>
<line x1="380.8" y1="432.3" x2="380.8" y2="434.7" stroke="#3a3a3a" stroke-width="0.8"/>
<line x1="385.1" y1="432.3" x2="385.1" y2="434.7" stroke="#3a3a3a" stroke-width="0.8"/>
<line x1="366.8" y1="433.5" x2="366.8" y2="436.3" stroke="#3a3a3a" stroke-width="0.9"/>
<text x="366.8" y="443.3" font-size="5.3" text-anchor="middle" font-weight="normal" fill="#444" stroke="#444" stroke-width="0.22">&#8722;5</text>
<line x1="375.5" y1="433.5" x2="375.5" y2="436.3" stroke="#3a3a3a" stroke-width="0.9"/>
<text x="375.5" y="443.3" font-size="5.3" text-anchor="middle" font-weight="normal" fill="#444" stroke="#444" stroke-width="0.22">&#8722;2</text>
<line x1="398.9" y1="433.5" x2="398.9" y2="436.3" stroke="#3a3a3a" stroke-width="0.9"/>
<text x="398.9" y="443.3" font-size="5.3" text-anchor="middle" font-weight="normal" fill="#444" stroke="#444" stroke-width="0.22">1</text>
<line x1="412.62" y1="433.5" x2="412.62" y2="436.3" stroke="#3a3a3a" stroke-width="0.9"/>
<text x="412.62" y="443.3" font-size="5.3" text-anchor="middle" font-weight="normal" fill="#444" stroke="#444" stroke-width="0.22">2</text>
<line x1="426.34" y1="433.5" x2="426.34" y2="436.3" stroke="#3a3a3a" stroke-width="0.9"/>
<text x="426.34" y="443.3" font-size="5.3" text-anchor="middle" font-weight="normal" fill="#444" stroke="#444" stroke-width="0.22">3</text>
<line x1="440.06" y1="433.5" x2="440.06" y2="436.3" stroke="#3a3a3a" stroke-width="0.9"/>
<text x="440.06" y="443.3" font-size="5.3" text-anchor="middle" font-weight="normal" fill="#444" stroke="#444" stroke-width="0.22">4</text>
<line x1="453.78" y1="433.5" x2="453.78" y2="436.3" stroke="#3a3a3a" stroke-width="0.9"/>
<text x="453.78" y="443.3" font-size="5.3" text-anchor="middle" font-weight="normal" fill="#444" stroke="#444" stroke-width="0.22">5</text>
<line x1="467.5" y1="433.5" x2="467.5" y2="436.3" stroke="#3a3a3a" stroke-width="0.9"/>
<text x="467.5" y="443.3" font-size="5.3" text-anchor="middle" font-weight="normal" fill="#444" stroke="#444" stroke-width="0.22">6</text>
<line x1="481.22" y1="433.5" x2="481.22" y2="436.3" stroke="#3a3a3a" stroke-width="0.9"/>
<text x="481.22" y="443.3" font-size="5.3" text-anchor="middle" font-weight="normal" fill="#444" stroke="#444" stroke-width="0.22">7</text>
<text x="424.7" y="453.2" font-size="7.5" text-anchor="middle" font-weight="bold" fill="#222" textLength="44.5" lengthAdjust="spacingAndGlyphs">Days after infusion</text>
<text transform="translate(343.3,402.8) rotate(-90)" x="0" y="0" font-size="7" text-anchor="middle" font-weight="bold" fill="#222" textLength="28.4" lengthAdjust="spacingAndGlyphs" dominant-baseline="central">pSTAT5 (%)</text>
<polyline points="39.8,527.3 48.6,521.6 58.1,520.4 64.8,519.1 70.3,521 76.1,516.6 81.7,517.9 87.5,522.9 93,515 98.8,519.1 115.2,518.7 137.9,523.8 155,524.5" fill="none" stroke="#c8283a" stroke-width="1.05" stroke-linejoin="round"/>
<circle cx="39.8" cy="527.3" r="1.3" fill="#c8283a"/>
<circle cx="48.6" cy="521.6" r="1.3" fill="#c8283a"/>
<circle cx="58.1" cy="520.4" r="1.3" fill="#c8283a"/>
<circle cx="64.8" cy="519.1" r="1.3" fill="#c8283a"/>
<circle cx="70.3" cy="521" r="1.3" fill="#c8283a"/>
<circle cx="76.1" cy="516.6" r="1.3" fill="#c8283a"/>
<circle cx="81.7" cy="517.9" r="1.3" fill="#c8283a"/>
<circle cx="87.5" cy="522.9" r="1.3" fill="#c8283a"/>
<circle cx="93" cy="515" r="1.3" fill="#c8283a"/>
<circle cx="98.8" cy="519.1" r="1.3" fill="#c8283a"/>
<circle cx="115.2" cy="518.7" r="1.3" fill="#c8283a"/>
<circle cx="137.9" cy="523.8" r="1.3" fill="#c8283a"/>
<circle cx="155" cy="524.5" r="1.3" fill="#c8283a"/>
<polyline points="39.8,525.4 48.6,522.9 58.1,523.3 64.8,524.8 70.3,509.9 76.1,509.7 81.7,496.8 87.5,505.9 93,515.3 98.8,513 115.2,523.5 137.9,526.1 155,527.3" fill="none" stroke="#4cab4c" stroke-width="1.05" stroke-linejoin="round"/>
<circle cx="39.8" cy="525.4" r="1.3" fill="#4cab4c"/>
<circle cx="48.6" cy="522.9" r="1.3" fill="#4cab4c"/>
<circle cx="58.1" cy="523.3" r="1.3" fill="#4cab4c"/>
<circle cx="64.8" cy="524.8" r="1.3" fill="#4cab4c"/>
<circle cx="70.3" cy="509.9" r="1.3" fill="#4cab4c"/>
<circle cx="76.1" cy="509.7" r="1.3" fill="#4cab4c"/>
<circle cx="81.7" cy="496.8" r="1.3" fill="#4cab4c"/>
<circle cx="87.5" cy="505.9" r="1.3" fill="#4cab4c"/>
<circle cx="93" cy="515.3" r="1.3" fill="#4cab4c"/>
<circle cx="98.8" cy="513" r="1.3" fill="#4cab4c"/>
<circle cx="115.2" cy="523.5" r="1.3" fill="#4cab4c"/>
<circle cx="137.9" cy="526.1" r="1.3" fill="#4cab4c"/>
<circle cx="155" cy="527.3" r="1.3" fill="#4cab4c"/>
<polyline points="39.8,526.1 48.6,522.5 58.1,521 64.8,521 70.3,502.1 76.1,478.7 81.7,490.1 87.5,483.1 93,481.9 98.8,491 115.2,524.2 137.9,526.7 155,528.6" fill="none" stroke="#40658f" stroke-width="1.05" stroke-linejoin="round"/>
<circle cx="39.8" cy="526.1" r="1.3" fill="#40658f"/>
<circle cx="48.6" cy="522.5" r="1.3" fill="#40658f"/>
<circle cx="58.1" cy="521" r="1.3" fill="#40658f"/>
<circle cx="64.8" cy="521" r="1.3" fill="#40658f"/>
<circle cx="70.3" cy="502.1" r="1.3" fill="#40658f"/>
<circle cx="76.1" cy="478.7" r="1.3" fill="#40658f"/>
<circle cx="81.7" cy="490.1" r="1.3" fill="#40658f"/>
<circle cx="87.5" cy="483.1" r="1.3" fill="#40658f"/>
<circle cx="93" cy="481.9" r="1.3" fill="#40658f"/>
<circle cx="98.8" cy="491" r="1.3" fill="#40658f"/>
<circle cx="115.2" cy="524.2" r="1.3" fill="#40658f"/>
<circle cx="137.9" cy="526.7" r="1.3" fill="#40658f"/>
<circle cx="155" cy="528.6" r="1.3" fill="#40658f"/>
<polyline points="39.8,529.2 48.6,522.3 58.1,516.6 64.8,511.9 70.3,481.6 76.1,494.5 81.7,480.2 87.5,480.6 93,496.8 98.8,493.9 115.2,528 137.9,529.8 155,529.6" fill="none" stroke="#512d5e" stroke-width="1.05" stroke-linejoin="round"/>
<circle cx="39.8" cy="529.2" r="1.3" fill="#2e1a3a"/>
<circle cx="48.6" cy="522.3" r="1.3" fill="#2e1a3a"/>
<circle cx="58.1" cy="516.6" r="1.3" fill="#2e1a3a"/>
<circle cx="64.8" cy="511.9" r="1.3" fill="#2e1a3a"/>
<circle cx="70.3" cy="481.6" r="1.3" fill="#2e1a3a"/>
<circle cx="76.1" cy="494.5" r="1.3" fill="#2e1a3a"/>
<circle cx="81.7" cy="480.2" r="1.3" fill="#2e1a3a"/>
<circle cx="87.5" cy="480.6" r="1.3" fill="#2e1a3a"/>
<circle cx="93" cy="496.8" r="1.3" fill="#2e1a3a"/>
<circle cx="98.8" cy="493.9" r="1.3" fill="#2e1a3a"/>
<circle cx="115.2" cy="528" r="1.3" fill="#2e1a3a"/>
<circle cx="137.9" cy="529.8" r="1.3" fill="#2e1a3a"/>
<circle cx="155" cy="529.6" r="1.3" fill="#2e1a3a"/>
<rect x="54.2" y="471.3" width="3.7" height="66.1" fill="#fff"/>
<line x1="37" y1="471.3" x2="37" y2="533.9" stroke="#555" stroke-width="1.8"/>
<line x1="33.7" y1="533.4" x2="37" y2="533.4" stroke="#3a3a3a" stroke-width="0.9"/>
<text x="32.2" y="535.3" font-size="5.4" text-anchor="end" font-weight="normal" fill="#444" stroke="#444" stroke-width="0.22">0</text>
<line x1="33.7" y1="521.52" x2="37" y2="521.52" stroke="#3a3a3a" stroke-width="0.9"/>
<text x="32.2" y="523.42" font-size="5.4" text-anchor="end" font-weight="normal" fill="#444" stroke="#444" stroke-width="0.22">20</text>
<line x1="33.7" y1="509.64" x2="37" y2="509.64" stroke="#3a3a3a" stroke-width="0.9"/>
<text x="32.2" y="511.54" font-size="5.4" text-anchor="end" font-weight="normal" fill="#444" stroke="#444" stroke-width="0.22">40</text>
<line x1="33.7" y1="497.76" x2="37" y2="497.76" stroke="#3a3a3a" stroke-width="0.9"/>
<text x="32.2" y="499.66" font-size="5.4" text-anchor="end" font-weight="normal" fill="#444" stroke="#444" stroke-width="0.22">60</text>
<line x1="33.7" y1="485.88" x2="37" y2="485.88" stroke="#3a3a3a" stroke-width="0.9"/>
<text x="32.2" y="487.78" font-size="5.4" text-anchor="end" font-weight="normal" fill="#444" stroke="#444" stroke-width="0.22">80</text>
<line x1="33.7" y1="474" x2="37" y2="474" stroke="#3a3a3a" stroke-width="0.9"/>
<text x="32.2" y="475.9" font-size="5.4" text-anchor="end" font-weight="normal" fill="#444" stroke="#444" stroke-width="0.22">100</text>
<line x1="34" y1="533.4" x2="54" y2="533.4" stroke="#222" stroke-width="1.2"/>
<line x1="58.1" y1="533.4" x2="158" y2="533.4" stroke="#222" stroke-width="1.2"/>
<line x1="54" y1="532.2" x2="54" y2="534.6" stroke="#3a3a3a" stroke-width="0.8"/>
<line x1="58.1" y1="532.2" x2="58.1" y2="534.6" stroke="#3a3a3a" stroke-width="0.8"/>
<line x1="39.8" y1="533.4" x2="39.8" y2="536.2" stroke="#3a3a3a" stroke-width="0.9"/>
<text x="39.8" y="542.8" font-size="5.3" text-anchor="middle" font-weight="normal" fill="#444" stroke="#444" stroke-width="0.22">&#8722;5</text>
<line x1="48.6" y1="533.4" x2="48.6" y2="536.2" stroke="#3a3a3a" stroke-width="0.9"/>
<text x="48.6" y="542.8" font-size="5.3" text-anchor="middle" font-weight="normal" fill="#444" stroke="#444" stroke-width="0.22">&#8722;2</text>
<line x1="64.8" y1="533.4" x2="64.8" y2="536.2" stroke="#3a3a3a" stroke-width="0.9"/>
<text x="64.8" y="542.8" font-size="5.3" text-anchor="middle" font-weight="normal" fill="#444" stroke="#444" stroke-width="0.22">1</text>
<line x1="70.44" y1="533.4" x2="70.44" y2="536.2" stroke="#3a3a3a" stroke-width="0.9"/>
<text x="70.44" y="542.8" font-size="5.3" text-anchor="middle" font-weight="normal" fill="#444" stroke="#444" stroke-width="0.22">2</text>
<line x1="76.08" y1="533.4" x2="76.08" y2="536.2" stroke="#3a3a3a" stroke-width="0.9"/>
<text x="76.08" y="542.8" font-size="5.3" text-anchor="middle" font-weight="normal" fill="#444" stroke="#444" stroke-width="0.22">3</text>
<line x1="81.72" y1="533.4" x2="81.72" y2="536.2" stroke="#3a3a3a" stroke-width="0.9"/>
<text x="81.72" y="542.8" font-size="5.3" text-anchor="middle" font-weight="normal" fill="#444" stroke="#444" stroke-width="0.22">4</text>
<line x1="87.36" y1="533.4" x2="87.36" y2="536.2" stroke="#3a3a3a" stroke-width="0.9"/>
<text x="87.36" y="542.8" font-size="5.3" text-anchor="middle" font-weight="normal" fill="#444" stroke="#444" stroke-width="0.22">5</text>
<line x1="93" y1="533.4" x2="93" y2="536.2" stroke="#3a3a3a" stroke-width="0.9"/>
<text x="93" y="542.8" font-size="5.3" text-anchor="middle" font-weight="normal" fill="#444" stroke="#444" stroke-width="0.22">6</text>
<line x1="98.64" y1="533.4" x2="98.64" y2="536.2" stroke="#3a3a3a" stroke-width="0.9"/>
<text x="98.64" y="542.8" font-size="5.3" text-anchor="middle" font-weight="normal" fill="#444" stroke="#444" stroke-width="0.22">7</text>
<line x1="115.56" y1="533.4" x2="115.56" y2="536.2" stroke="#3a3a3a" stroke-width="0.9"/>
<text x="115.56" y="542.8" font-size="5.3" text-anchor="middle" font-weight="normal" fill="#444" stroke="#444" stroke-width="0.22">10</text>
<line x1="138.12" y1="533.4" x2="138.12" y2="536.2" stroke="#3a3a3a" stroke-width="0.9"/>
<text x="138.12" y="542.8" font-size="5.3" text-anchor="middle" font-weight="normal" fill="#444" stroke="#444" stroke-width="0.22">14</text>
<line x1="155.04" y1="533.4" x2="155.04" y2="536.2" stroke="#3a3a3a" stroke-width="0.9"/>
<text x="155.04" y="542.8" font-size="5.3" text-anchor="middle" font-weight="normal" fill="#444" stroke="#444" stroke-width="0.22">17</text>
<text x="97.7" y="552.6" font-size="7.5" text-anchor="middle" font-weight="bold" fill="#222" textLength="44.5" lengthAdjust="spacingAndGlyphs">Days after infusion</text>
<text transform="translate(16.2,502.2) rotate(-90)" x="0" y="0" font-size="7" text-anchor="middle" font-weight="bold" fill="#222" textLength="27.2" lengthAdjust="spacingAndGlyphs" dominant-baseline="central">Ki-67+ (%)</text>
<polyline points="204.8,529.2 213.6,529.2 223.4,528.8 230,528.8 235.6,531.7 241,530.1 246.7,528.6 252.4,529.8 257.8,527.6 263.2,528.8 280.5,530.5 302.4,530.9 319.6,531.1" fill="none" stroke="#c8283a" stroke-width="1.05" stroke-linejoin="round"/>
<circle cx="204.8" cy="529.2" r="1.3" fill="#c8283a"/>
<circle cx="213.6" cy="529.2" r="1.3" fill="#c8283a"/>
<circle cx="223.4" cy="528.8" r="1.3" fill="#c8283a"/>
<circle cx="230" cy="528.8" r="1.3" fill="#c8283a"/>
<circle cx="235.6" cy="531.7" r="1.3" fill="#c8283a"/>
<circle cx="241" cy="530.1" r="1.3" fill="#c8283a"/>
<circle cx="246.7" cy="528.6" r="1.3" fill="#c8283a"/>
<circle cx="252.4" cy="529.8" r="1.3" fill="#c8283a"/>
<circle cx="257.8" cy="527.6" r="1.3" fill="#c8283a"/>
<circle cx="263.2" cy="528.8" r="1.3" fill="#c8283a"/>
<circle cx="280.5" cy="530.5" r="1.3" fill="#c8283a"/>
<circle cx="302.4" cy="530.9" r="1.3" fill="#c8283a"/>
<circle cx="319.6" cy="531.1" r="1.3" fill="#c8283a"/>
<polyline points="204.8,529.6 213.6,529.4 223.4,529.8 230,530.5 235.6,527.3 241,527.3 246.7,525.4 252.4,526.3 257.8,528.3 263.2,528.6 280.5,526.7 302.4,528 319.6,529.6" fill="none" stroke="#4cab4c" stroke-width="1.05" stroke-linejoin="round"/>
<circle cx="204.8" cy="529.6" r="1.3" fill="#4cab4c"/>
<circle cx="213.6" cy="529.4" r="1.3" fill="#4cab4c"/>
<circle cx="223.4" cy="529.8" r="1.3" fill="#4cab4c"/>
<circle cx="230" cy="530.5" r="1.3" fill="#4cab4c"/>
<circle cx="235.6" cy="527.3" r="1.3" fill="#4cab4c"/>
<circle cx="241" cy="527.3" r="1.3" fill="#4cab4c"/>
<circle cx="246.7" cy="525.4" r="1.3" fill="#4cab4c"/>
<circle cx="252.4" cy="526.3" r="1.3" fill="#4cab4c"/>
<circle cx="257.8" cy="528.3" r="1.3" fill="#4cab4c"/>
<circle cx="263.2" cy="528.6" r="1.3" fill="#4cab4c"/>
<circle cx="280.5" cy="526.7" r="1.3" fill="#4cab4c"/>
<circle cx="302.4" cy="528" r="1.3" fill="#4cab4c"/>
<circle cx="319.6" cy="529.6" r="1.3" fill="#4cab4c"/>
<polyline points="204.8,530.1 213.6,529.8 223.4,531.1 230,531.1 235.6,519.7 241,516 246.7,503.6 252.4,501.8 257.8,517.9 263.2,513.2 280.5,529.8 302.4,529.6 319.6,531.1" fill="none" stroke="#40658f" stroke-width="1.05" stroke-linejoin="round"/>
<circle cx="204.8" cy="530.1" r="1.3" fill="#40658f"/>
<circle cx="213.6" cy="529.8" r="1.3" fill="#40658f"/>
<circle cx="223.4" cy="531.1" r="1.3" fill="#40658f"/>
<circle cx="230" cy="531.1" r="1.3" fill="#40658f"/>
<circle cx="235.6" cy="519.7" r="1.3" fill="#40658f"/>
<circle cx="241" cy="516" r="1.3" fill="#40658f"/>
<circle cx="246.7" cy="503.6" r="1.3" fill="#40658f"/>
<circle cx="252.4" cy="501.8" r="1.3" fill="#40658f"/>
<circle cx="257.8" cy="517.9" r="1.3" fill="#40658f"/>
<circle cx="263.2" cy="513.2" r="1.3" fill="#40658f"/>
<circle cx="280.5" cy="529.8" r="1.3" fill="#40658f"/>
<circle cx="302.4" cy="529.6" r="1.3" fill="#40658f"/>
<circle cx="319.6" cy="531.1" r="1.3" fill="#40658f"/>
<polyline points="204.8,529.8 213.6,529.6 223.4,529.6 230,528.6 235.6,521 241,493.9 246.7,499.3 252.4,488.4 257.8,495.5 263.2,512.8 280.5,524.5 302.4,528.6 319.6,530.5" fill="none" stroke="#512d5e" stroke-width="1.05" stroke-linejoin="round"/>
<circle cx="204.8" cy="529.8" r="1.3" fill="#2e1a3a"/>
<circle cx="213.6" cy="529.6" r="1.3" fill="#2e1a3a"/>
<circle cx="223.4" cy="529.6" r="1.3" fill="#2e1a3a"/>
<circle cx="230" cy="528.6" r="1.3" fill="#2e1a3a"/>
<circle cx="235.6" cy="521" r="1.3" fill="#2e1a3a"/>
<circle cx="241" cy="493.9" r="1.3" fill="#2e1a3a"/>
<circle cx="246.7" cy="499.3" r="1.3" fill="#2e1a3a"/>
<circle cx="252.4" cy="488.4" r="1.3" fill="#2e1a3a"/>
<circle cx="257.8" cy="495.5" r="1.3" fill="#2e1a3a"/>
<circle cx="263.2" cy="512.8" r="1.3" fill="#2e1a3a"/>
<circle cx="280.5" cy="524.5" r="1.3" fill="#2e1a3a"/>
<circle cx="302.4" cy="528.6" r="1.3" fill="#2e1a3a"/>
<circle cx="319.6" cy="530.5" r="1.3" fill="#2e1a3a"/>
<rect x="219.1" y="471.3" width="4.1" height="66.1" fill="#fff"/>
<line x1="202" y1="471.3" x2="202" y2="533.9" stroke="#555" stroke-width="1.8"/>
<line x1="198.7" y1="533.4" x2="202" y2="533.4" stroke="#3a3a3a" stroke-width="0.9"/>
<text x="197.2" y="535.3" font-size="5.4" text-anchor="end" font-weight="normal" fill="#444" stroke="#444" stroke-width="0.22">0</text>
<line x1="198.7" y1="521.52" x2="202" y2="521.52" stroke="#3a3a3a" stroke-width="0.9"/>
<text x="197.2" y="523.42" font-size="5.4" text-anchor="end" font-weight="normal" fill="#444" stroke="#444" stroke-width="0.22">20</text>
<line x1="198.7" y1="509.64" x2="202" y2="509.64" stroke="#3a3a3a" stroke-width="0.9"/>
<text x="197.2" y="511.54" font-size="5.4" text-anchor="end" font-weight="normal" fill="#444" stroke="#444" stroke-width="0.22">40</text>
<line x1="198.7" y1="497.76" x2="202" y2="497.76" stroke="#3a3a3a" stroke-width="0.9"/>
<text x="197.2" y="499.66" font-size="5.4" text-anchor="end" font-weight="normal" fill="#444" stroke="#444" stroke-width="0.22">60</text>
<line x1="198.7" y1="485.88" x2="202" y2="485.88" stroke="#3a3a3a" stroke-width="0.9"/>
<text x="197.2" y="487.78" font-size="5.4" text-anchor="end" font-weight="normal" fill="#444" stroke="#444" stroke-width="0.22">80</text>
<line x1="198.7" y1="474" x2="202" y2="474" stroke="#3a3a3a" stroke-width="0.9"/>
<text x="197.2" y="475.9" font-size="5.4" text-anchor="end" font-weight="normal" fill="#444" stroke="#444" stroke-width="0.22">100</text>
<line x1="199" y1="533.4" x2="218.9" y2="533.4" stroke="#222" stroke-width="1.2"/>
<line x1="223.4" y1="533.4" x2="322.5" y2="533.4" stroke="#222" stroke-width="1.2"/>
<line x1="218.9" y1="532.2" x2="218.9" y2="534.6" stroke="#3a3a3a" stroke-width="0.8"/>
<line x1="223.4" y1="532.2" x2="223.4" y2="534.6" stroke="#3a3a3a" stroke-width="0.8"/>
<line x1="204.8" y1="533.4" x2="204.8" y2="536.2" stroke="#3a3a3a" stroke-width="0.9"/>
<text x="204.8" y="542.8" font-size="5.3" text-anchor="middle" font-weight="normal" fill="#444" stroke="#444" stroke-width="0.22">&#8722;5</text>
<line x1="213.6" y1="533.4" x2="213.6" y2="536.2" stroke="#3a3a3a" stroke-width="0.9"/>
<text x="213.6" y="542.8" font-size="5.3" text-anchor="middle" font-weight="normal" fill="#444" stroke="#444" stroke-width="0.22">&#8722;2</text>
<line x1="230" y1="533.4" x2="230" y2="536.2" stroke="#3a3a3a" stroke-width="0.9"/>
<text x="230" y="542.8" font-size="5.3" text-anchor="middle" font-weight="normal" fill="#444" stroke="#444" stroke-width="0.22">1</text>
<line x1="235.6" y1="533.4" x2="235.6" y2="536.2" stroke="#3a3a3a" stroke-width="0.9"/>
<text x="235.6" y="542.8" font-size="5.3" text-anchor="middle" font-weight="normal" fill="#444" stroke="#444" stroke-width="0.22">2</text>
<line x1="241.2" y1="533.4" x2="241.2" y2="536.2" stroke="#3a3a3a" stroke-width="0.9"/>
<text x="241.2" y="542.8" font-size="5.3" text-anchor="middle" font-weight="normal" fill="#444" stroke="#444" stroke-width="0.22">3</text>
<line x1="246.8" y1="533.4" x2="246.8" y2="536.2" stroke="#3a3a3a" stroke-width="0.9"/>
<text x="246.8" y="542.8" font-size="5.3" text-anchor="middle" font-weight="normal" fill="#444" stroke="#444" stroke-width="0.22">4</text>
<line x1="252.4" y1="533.4" x2="252.4" y2="536.2" stroke="#3a3a3a" stroke-width="0.9"/>
<text x="252.4" y="542.8" font-size="5.3" text-anchor="middle" font-weight="normal" fill="#444" stroke="#444" stroke-width="0.22">5</text>
<line x1="258" y1="533.4" x2="258" y2="536.2" stroke="#3a3a3a" stroke-width="0.9"/>
<text x="258" y="542.8" font-size="5.3" text-anchor="middle" font-weight="normal" fill="#444" stroke="#444" stroke-width="0.22">6</text>
<line x1="263.6" y1="533.4" x2="263.6" y2="536.2" stroke="#3a3a3a" stroke-width="0.9"/>
<text x="263.6" y="542.8" font-size="5.3" text-anchor="middle" font-weight="normal" fill="#444" stroke="#444" stroke-width="0.22">7</text>
<line x1="280.4" y1="533.4" x2="280.4" y2="536.2" stroke="#3a3a3a" stroke-width="0.9"/>
<text x="280.4" y="542.8" font-size="5.3" text-anchor="middle" font-weight="normal" fill="#444" stroke="#444" stroke-width="0.22">10</text>
<line x1="302.8" y1="533.4" x2="302.8" y2="536.2" stroke="#3a3a3a" stroke-width="0.9"/>
<text x="302.8" y="542.8" font-size="5.3" text-anchor="middle" font-weight="normal" fill="#444" stroke="#444" stroke-width="0.22">14</text>
<line x1="319.6" y1="533.4" x2="319.6" y2="536.2" stroke="#3a3a3a" stroke-width="0.9"/>
<text x="319.6" y="542.8" font-size="5.3" text-anchor="middle" font-weight="normal" fill="#444" stroke="#444" stroke-width="0.22">17</text>
<text x="262.7" y="552.6" font-size="7.5" text-anchor="middle" font-weight="bold" fill="#222" textLength="44.5" lengthAdjust="spacingAndGlyphs">Days after infusion</text>
<text transform="translate(181.2,502.2) rotate(-90)" x="0" y="0" font-size="7" text-anchor="middle" font-weight="bold" fill="#222" textLength="27.2" lengthAdjust="spacingAndGlyphs" dominant-baseline="central">Ki-67+ (%)</text>
<polyline points="366.8,529.8 375.6,529.6 385.3,529.8 391.7,530.1 397.1,531.1 402.6,530.5 408.4,529.6 414,530.5 419.4,528.6 425,529.2 441.5,530.5 463.9,530.5 480.6,530.5" fill="none" stroke="#c8283a" stroke-width="1.05" stroke-linejoin="round"/>
<circle cx="366.8" cy="529.8" r="1.3" fill="#c8283a"/>
<circle cx="375.6" cy="529.6" r="1.3" fill="#c8283a"/>
<circle cx="385.3" cy="529.8" r="1.3" fill="#c8283a"/>
<circle cx="391.7" cy="530.1" r="1.3" fill="#c8283a"/>
<circle cx="397.1" cy="531.1" r="1.3" fill="#c8283a"/>
<circle cx="402.6" cy="530.5" r="1.3" fill="#c8283a"/>
<circle cx="408.4" cy="529.6" r="1.3" fill="#c8283a"/>
<circle cx="414" cy="530.5" r="1.3" fill="#c8283a"/>
<circle cx="419.4" cy="528.6" r="1.3" fill="#c8283a"/>
<circle cx="425" cy="529.2" r="1.3" fill="#c8283a"/>
<circle cx="441.5" cy="530.5" r="1.3" fill="#c8283a"/>
<circle cx="463.9" cy="530.5" r="1.3" fill="#c8283a"/>
<circle cx="480.6" cy="530.5" r="1.3" fill="#c8283a"/>
<polyline points="366.8,526.7 375.6,528 385.3,529.2 391.7,529.8 397.1,529.2 402.6,528.6 408.4,528.3 414,528 419.4,528.6 425,528.6 441.5,529.2 463.9,529.6 480.6,530" fill="none" stroke="#4cab4c" stroke-width="1.05" stroke-linejoin="round"/>
<circle cx="366.8" cy="526.7" r="1.3" fill="#4cab4c"/>
<circle cx="375.6" cy="528" r="1.3" fill="#4cab4c"/>
<circle cx="385.3" cy="529.2" r="1.3" fill="#4cab4c"/>
<circle cx="391.7" cy="529.8" r="1.3" fill="#4cab4c"/>
<circle cx="397.1" cy="529.2" r="1.3" fill="#4cab4c"/>
<circle cx="402.6" cy="528.6" r="1.3" fill="#4cab4c"/>
<circle cx="408.4" cy="528.3" r="1.3" fill="#4cab4c"/>
<circle cx="414" cy="528" r="1.3" fill="#4cab4c"/>
<circle cx="419.4" cy="528.6" r="1.3" fill="#4cab4c"/>
<circle cx="425" cy="528.6" r="1.3" fill="#4cab4c"/>
<circle cx="441.5" cy="529.2" r="1.3" fill="#4cab4c"/>
<circle cx="463.9" cy="529.6" r="1.3" fill="#4cab4c"/>
<circle cx="480.6" cy="530" r="1.3" fill="#4cab4c"/>
<polyline points="366.8,529.2 375.6,528.8 385.3,530.1 391.7,529.6 397.1,527.6 402.6,528.3 408.4,525 414,525.4 419.4,528.8 425,528.5 441.5,528.6 463.9,529.6 480.6,530.1" fill="none" stroke="#40658f" stroke-width="1.05" stroke-linejoin="round"/>
<circle cx="366.8" cy="529.2" r="1.3" fill="#40658f"/>
<circle cx="375.6" cy="528.8" r="1.3" fill="#40658f"/>
<circle cx="385.3" cy="530.1" r="1.3" fill="#40658f"/>
<circle cx="391.7" cy="529.6" r="1.3" fill="#40658f"/>
<circle cx="397.1" cy="527.6" r="1.3" fill="#40658f"/>
<circle cx="402.6" cy="528.3" r="1.3" fill="#40658f"/>
<circle cx="408.4" cy="525" r="1.3" fill="#40658f"/>
<circle cx="414" cy="525.4" r="1.3" fill="#40658f"/>
<circle cx="419.4" cy="528.8" r="1.3" fill="#40658f"/>
<circle cx="425" cy="528.5" r="1.3" fill="#40658f"/>
<circle cx="441.5" cy="528.6" r="1.3" fill="#40658f"/>
<circle cx="463.9" cy="529.6" r="1.3" fill="#40658f"/>
<circle cx="480.6" cy="530.1" r="1.3" fill="#40658f"/>
<polyline points="366.8,530.1 375.6,529.8 385.3,529.8 391.7,529.8 397.1,523.8 402.6,508.6 408.4,515 414,515.3 419.4,520 425,526.7 441.5,527.3 463.9,529.2 480.6,529.8" fill="none" stroke="#512d5e" stroke-width="1.05" stroke-linejoin="round"/>
<circle cx="366.8" cy="530.1" r="1.3" fill="#2e1a3a"/>
<circle cx="375.6" cy="529.8" r="1.3" fill="#2e1a3a"/>
<circle cx="385.3" cy="529.8" r="1.3" fill="#2e1a3a"/>
<circle cx="391.7" cy="529.8" r="1.3" fill="#2e1a3a"/>
<circle cx="397.1" cy="523.8" r="1.3" fill="#2e1a3a"/>
<circle cx="402.6" cy="508.6" r="1.3" fill="#2e1a3a"/>
<circle cx="408.4" cy="515" r="1.3" fill="#2e1a3a"/>
<circle cx="414" cy="515.3" r="1.3" fill="#2e1a3a"/>
<circle cx="419.4" cy="520" r="1.3" fill="#2e1a3a"/>
<circle cx="425" cy="526.7" r="1.3" fill="#2e1a3a"/>
<circle cx="441.5" cy="527.3" r="1.3" fill="#2e1a3a"/>
<circle cx="463.9" cy="529.2" r="1.3" fill="#2e1a3a"/>
<circle cx="480.6" cy="529.8" r="1.3" fill="#2e1a3a"/>
<rect x="381.1" y="471.3" width="4" height="66.1" fill="#fff"/>
<line x1="364" y1="471.3" x2="364" y2="533.9" stroke="#555" stroke-width="1.8"/>
<line x1="360.7" y1="533.4" x2="364" y2="533.4" stroke="#3a3a3a" stroke-width="0.9"/>
<text x="359.2" y="535.3" font-size="5.4" text-anchor="end" font-weight="normal" fill="#444" stroke="#444" stroke-width="0.22">0</text>
<line x1="360.7" y1="521.52" x2="364" y2="521.52" stroke="#3a3a3a" stroke-width="0.9"/>
<text x="359.2" y="523.42" font-size="5.4" text-anchor="end" font-weight="normal" fill="#444" stroke="#444" stroke-width="0.22">20</text>
<line x1="360.7" y1="509.64" x2="364" y2="509.64" stroke="#3a3a3a" stroke-width="0.9"/>
<text x="359.2" y="511.54" font-size="5.4" text-anchor="end" font-weight="normal" fill="#444" stroke="#444" stroke-width="0.22">40</text>
<line x1="360.7" y1="497.76" x2="364" y2="497.76" stroke="#3a3a3a" stroke-width="0.9"/>
<text x="359.2" y="499.66" font-size="5.4" text-anchor="end" font-weight="normal" fill="#444" stroke="#444" stroke-width="0.22">60</text>
<line x1="360.7" y1="485.88" x2="364" y2="485.88" stroke="#3a3a3a" stroke-width="0.9"/>
<text x="359.2" y="487.78" font-size="5.4" text-anchor="end" font-weight="normal" fill="#444" stroke="#444" stroke-width="0.22">80</text>
<line x1="360.7" y1="474" x2="364" y2="474" stroke="#3a3a3a" stroke-width="0.9"/>
<text x="359.2" y="475.9" font-size="5.4" text-anchor="end" font-weight="normal" fill="#444" stroke="#444" stroke-width="0.22">100</text>
<line x1="361" y1="533.4" x2="380.9" y2="533.4" stroke="#222" stroke-width="1.2"/>
<line x1="385.3" y1="533.4" x2="483.5" y2="533.4" stroke="#222" stroke-width="1.2"/>
<line x1="380.9" y1="532.2" x2="380.9" y2="534.6" stroke="#3a3a3a" stroke-width="0.8"/>
<line x1="385.3" y1="532.2" x2="385.3" y2="534.6" stroke="#3a3a3a" stroke-width="0.8"/>
<line x1="366.8" y1="533.4" x2="366.8" y2="536.2" stroke="#3a3a3a" stroke-width="0.9"/>
<text x="366.8" y="542.8" font-size="5.3" text-anchor="middle" font-weight="normal" fill="#444" stroke="#444" stroke-width="0.22">&#8722;5</text>
<line x1="375.6" y1="533.4" x2="375.6" y2="536.2" stroke="#3a3a3a" stroke-width="0.9"/>
<text x="375.6" y="542.8" font-size="5.3" text-anchor="middle" font-weight="normal" fill="#444" stroke="#444" stroke-width="0.22">&#8722;2</text>
<line x1="391.7" y1="533.4" x2="391.7" y2="536.2" stroke="#3a3a3a" stroke-width="0.9"/>
<text x="391.7" y="542.8" font-size="5.3" text-anchor="middle" font-weight="normal" fill="#444" stroke="#444" stroke-width="0.22">1</text>
<line x1="397.26" y1="533.4" x2="397.26" y2="536.2" stroke="#3a3a3a" stroke-width="0.9"/>
<text x="397.26" y="542.8" font-size="5.3" text-anchor="middle" font-weight="normal" fill="#444" stroke="#444" stroke-width="0.22">2</text>
<line x1="402.82" y1="533.4" x2="402.82" y2="536.2" stroke="#3a3a3a" stroke-width="0.9"/>
<text x="402.82" y="542.8" font-size="5.3" text-anchor="middle" font-weight="normal" fill="#444" stroke="#444" stroke-width="0.22">3</text>
<line x1="408.38" y1="533.4" x2="408.38" y2="536.2" stroke="#3a3a3a" stroke-width="0.9"/>
<text x="408.38" y="542.8" font-size="5.3" text-anchor="middle" font-weight="normal" fill="#444" stroke="#444" stroke-width="0.22">4</text>
<line x1="413.94" y1="533.4" x2="413.94" y2="536.2" stroke="#3a3a3a" stroke-width="0.9"/>
<text x="413.94" y="542.8" font-size="5.3" text-anchor="middle" font-weight="normal" fill="#444" stroke="#444" stroke-width="0.22">5</text>
<line x1="419.5" y1="533.4" x2="419.5" y2="536.2" stroke="#3a3a3a" stroke-width="0.9"/>
<text x="419.5" y="542.8" font-size="5.3" text-anchor="middle" font-weight="normal" fill="#444" stroke="#444" stroke-width="0.22">6</text>
<line x1="425.06" y1="533.4" x2="425.06" y2="536.2" stroke="#3a3a3a" stroke-width="0.9"/>
<text x="425.06" y="542.8" font-size="5.3" text-anchor="middle" font-weight="normal" fill="#444" stroke="#444" stroke-width="0.22">7</text>
<line x1="441.74" y1="533.4" x2="441.74" y2="536.2" stroke="#3a3a3a" stroke-width="0.9"/>
<text x="441.74" y="542.8" font-size="5.3" text-anchor="middle" font-weight="normal" fill="#444" stroke="#444" stroke-width="0.22">10</text>
<line x1="463.98" y1="533.4" x2="463.98" y2="536.2" stroke="#3a3a3a" stroke-width="0.9"/>
<text x="463.98" y="542.8" font-size="5.3" text-anchor="middle" font-weight="normal" fill="#444" stroke="#444" stroke-width="0.22">14</text>
<line x1="480.66" y1="533.4" x2="480.66" y2="536.2" stroke="#3a3a3a" stroke-width="0.9"/>
<text x="480.66" y="542.8" font-size="5.3" text-anchor="middle" font-weight="normal" fill="#444" stroke="#444" stroke-width="0.22">17</text>
<text x="424.7" y="552.6" font-size="7.5" text-anchor="middle" font-weight="bold" fill="#222" textLength="44.5" lengthAdjust="spacingAndGlyphs">Days after infusion</text>
<text transform="translate(343.3,502.2) rotate(-90)" x="0" y="0" font-size="7" text-anchor="middle" font-weight="bold" fill="#222" textLength="27.2" lengthAdjust="spacingAndGlyphs" dominant-baseline="central">Ki-67+ (%)</text>
<line x1="486.9" y1="277.7" x2="493.8" y2="277.7" stroke="#512d5e" stroke-width="0.9"/>
<path d="M488.9,277.7 L490.4,276.8 L491.9,277.7 L490.4,278.6 Z" fill="#2e1a3a"/>
<text x="495" y="279.45" font-size="5" text-anchor="start" font-weight="normal" fill="#4a4a4a" textLength="19.2" lengthAdjust="spacingAndGlyphs" stroke="#4a4a4a" stroke-width="0.22">0.1 mg/kg</text>
<line x1="486.9" y1="286.2" x2="493.8" y2="286.2" stroke="#40658f" stroke-width="0.9"/>
<path d="M488.9,286.2 L490.4,285.3 L491.9,286.2 L490.4,287.1 Z" fill="#40658f"/>
<text x="495" y="287.95" font-size="5" text-anchor="start" font-weight="normal" fill="#4a4a4a" textLength="22.6" lengthAdjust="spacingAndGlyphs" stroke="#4a4a4a" stroke-width="0.22">0.01 mg/kg</text>
<line x1="486.9" y1="294.5" x2="493.8" y2="294.5" stroke="#4cab4c" stroke-width="0.9"/>
<path d="M488.9,294.5 L490.4,293.6 L491.9,294.5 L490.4,295.4 Z" fill="#4cab4c"/>
<text x="495" y="296.25" font-size="5" text-anchor="start" font-weight="normal" fill="#4a4a4a" textLength="25.8" lengthAdjust="spacingAndGlyphs" stroke="#4a4a4a" stroke-width="0.22">0.001 mg/kg</text>
<line x1="486.9" y1="302.5" x2="493.8" y2="302.5" stroke="#c8283a" stroke-width="0.9"/>
<path d="M488.9,302.5 L490.4,301.6 L491.9,302.5 L490.4,303.4 Z" fill="#c8283a"/>
<text x="495" y="304.25" font-size="5" text-anchor="start" font-weight="normal" fill="#4a4a4a" textLength="13.2" lengthAdjust="spacingAndGlyphs" stroke="#4a4a4a" stroke-width="0.22">vehicle</text>
<line x1="486.9" y1="390.5" x2="493.8" y2="390.5" stroke="#512d5e" stroke-width="0.9"/>
<path d="M488.9,390.5 L490.4,389.6 L491.9,390.5 L490.4,391.4 Z" fill="#2e1a3a"/>
<text x="495" y="392.25" font-size="5" text-anchor="start" font-weight="normal" fill="#4a4a4a" textLength="19.2" lengthAdjust="spacingAndGlyphs" stroke="#4a4a4a" stroke-width="0.22">0.1 mg/kg</text>
<line x1="486.9" y1="398.7" x2="493.8" y2="398.7" stroke="#40658f" stroke-width="0.9"/>
<path d="M488.9,398.7 L490.4,397.8 L491.9,398.7 L490.4,399.6 Z" fill="#40658f"/>
<text x="495" y="400.45" font-size="5" text-anchor="start" font-weight="normal" fill="#4a4a4a" textLength="22.6" lengthAdjust="spacingAndGlyphs" stroke="#4a4a4a" stroke-width="0.22">0.01 mg/kg</text>
<line x1="486.9" y1="406.9" x2="493.8" y2="406.9" stroke="#4cab4c" stroke-width="0.9"/>
<path d="M488.9,406.9 L490.4,406 L491.9,406.9 L490.4,407.8 Z" fill="#4cab4c"/>
<text x="495" y="408.65" font-size="5" text-anchor="start" font-weight="normal" fill="#4a4a4a" textLength="25.8" lengthAdjust="spacingAndGlyphs" stroke="#4a4a4a" stroke-width="0.22">0.001 mg/kg</text>
<line x1="486.9" y1="415.2" x2="493.8" y2="415.2" stroke="#c8283a" stroke-width="0.9"/>
<path d="M488.9,415.2 L490.4,414.3 L491.9,415.2 L490.4,416.1 Z" fill="#c8283a"/>
<text x="495" y="416.95" font-size="5" text-anchor="start" font-weight="normal" fill="#4a4a4a" textLength="13.2" lengthAdjust="spacingAndGlyphs" stroke="#4a4a4a" stroke-width="0.22">vehicle</text>
<line x1="486.9" y1="490.2" x2="493.8" y2="490.2" stroke="#512d5e" stroke-width="0.9"/>
<path d="M488.9,490.2 L490.4,489.3 L491.9,490.2 L490.4,491.1 Z" fill="#2e1a3a"/>
<text x="495" y="491.95" font-size="5" text-anchor="start" font-weight="normal" fill="#4a4a4a" textLength="19.2" lengthAdjust="spacingAndGlyphs" stroke="#4a4a4a" stroke-width="0.22">0.1 mg/kg</text>
<line x1="486.9" y1="498.5" x2="493.8" y2="498.5" stroke="#40658f" stroke-width="0.9"/>
<path d="M488.9,498.5 L490.4,497.6 L491.9,498.5 L490.4,499.4 Z" fill="#40658f"/>
<text x="495" y="500.25" font-size="5" text-anchor="start" font-weight="normal" fill="#4a4a4a" textLength="22.6" lengthAdjust="spacingAndGlyphs" stroke="#4a4a4a" stroke-width="0.22">0.01 mg/kg</text>
<line x1="486.9" y1="506.5" x2="493.8" y2="506.5" stroke="#4cab4c" stroke-width="0.9"/>
<path d="M488.9,506.5 L490.4,505.6 L491.9,506.5 L490.4,507.4 Z" fill="#4cab4c"/>
<text x="495" y="508.25" font-size="5" text-anchor="start" font-weight="normal" fill="#4a4a4a" textLength="25.8" lengthAdjust="spacingAndGlyphs" stroke="#4a4a4a" stroke-width="0.22">0.001 mg/kg</text>
<line x1="486.9" y1="514.6" x2="493.8" y2="514.6" stroke="#c8283a" stroke-width="0.9"/>
<path d="M488.9,514.6 L490.4,513.7 L491.9,514.6 L490.4,515.5 Z" fill="#c8283a"/>
<text x="495" y="516.35" font-size="5" text-anchor="start" font-weight="normal" fill="#4a4a4a" textLength="13.2" lengthAdjust="spacingAndGlyphs" stroke="#4a4a4a" stroke-width="0.22">vehicle</text>
</svg>
</body></html>
